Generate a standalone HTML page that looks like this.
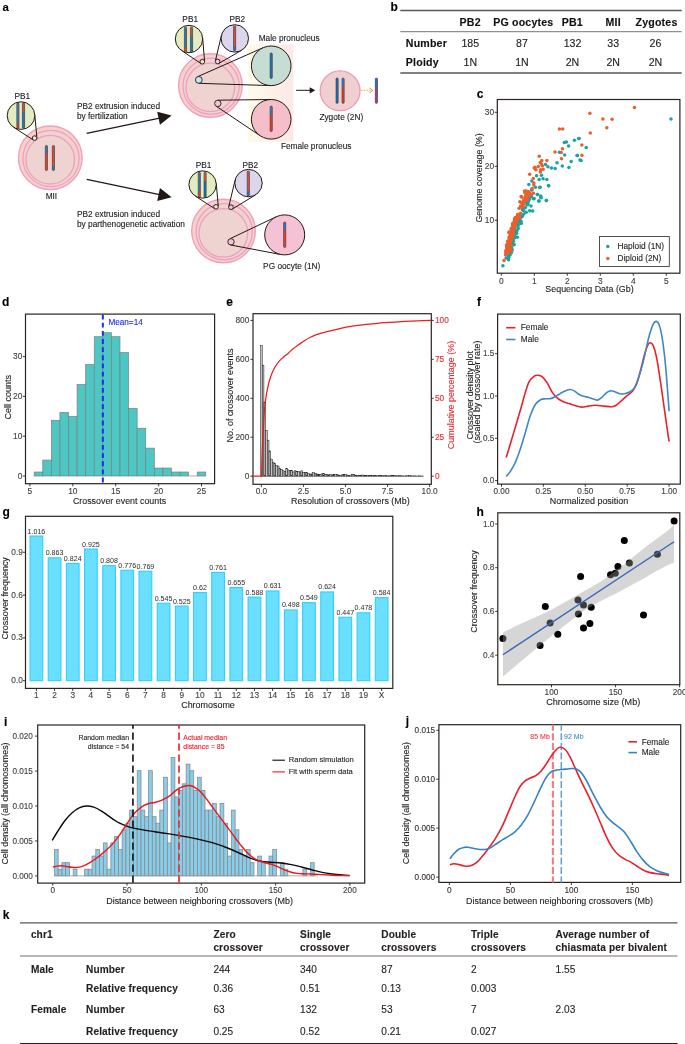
<!DOCTYPE html>
<html lang="en">
<head>
<meta charset="utf-8">
<title>Figure: crossover analysis</title>
<style>
html,body{margin:0;padding:0;background:#ffffff;}
body{width:685px;height:1044px;overflow:hidden;font-family:'Liberation Sans', sans-serif;}
svg{display:block;}
svg text{font-family:"Liberation Sans", sans-serif;}
</style>
</head>
<body>
<svg width="685" height="1044" viewBox="0 0 685 1044">
<defs>
<linearGradient id="pnbg" x1="0" y1="0" x2="1" y2="0">
<stop offset="0" stop-color="#fffbe8"/>
<stop offset="1" stop-color="#fce8e6"/>
</linearGradient>
</defs>
<rect x="0" y="0" width="685" height="1044" fill="#ffffff"/>
<text x="2.60" y="10.60" font-size="11.4" fill="#000" text-anchor="start" font-weight="bold" stroke="#000" stroke-width="0.12">a</text>
<circle cx="50.30" cy="157.80" r="31.80" fill="#f9d0cc" stroke="#efa0bc" stroke-width="1.4"/>
<circle cx="51.00" cy="158.50" r="28.10" fill="#eed3d1" stroke="#efa0bc" stroke-width="1.3"/>
<circle cx="50.20" cy="159.70" r="24.30" fill="#eed3d1" stroke="#efa0bc" stroke-width="1.3"/>
<line x1="36.89" y1="137.89" x2="34.74" y2="114.35" stroke="#231815" stroke-width="1.0"/>
<line x1="33.35" y1="140.03" x2="13.50" y2="127.19" stroke="#231815" stroke-width="1.0"/>
<circle cx="34.60" cy="138.10" r="2.30" fill="#e3ecc0" stroke="#231815" stroke-width="0.9"/>
<circle cx="21.00" cy="115.60" r="13.80" fill="#e3ecc0" stroke="#231815" stroke-width="1.0"/>
<g>
<rect x="16.80" y="102.90" width="2.20" height="25.40" fill="#e0492b" stroke="#231815" stroke-width="0.5" rx="1.1" ry="1.1"/>
<path d="M17.05,123.22 L17.05,103.90 Q17.05,103.15 17.90,103.15 Q18.75,103.15 18.75,103.90 L18.75,123.22 Z" fill="#2478b9"/>
</g>
<g>
<rect x="22.40" y="102.90" width="2.20" height="25.40" fill="#2478b9" stroke="#231815" stroke-width="0.5" rx="1.1" ry="1.1"/>
<path d="M22.65,111.54 L22.65,103.90 Q22.65,103.15 23.50,103.15 Q24.35,103.15 24.35,103.90 L24.35,111.54 Z" fill="#e0492b"/>
</g>
<g>
<rect x="45.30" y="145.40" width="2.20" height="25.20" fill="#e0492b" stroke="#231815" stroke-width="0.5" rx="1.1" ry="1.1"/>
<path d="M45.55,153.97 L45.55,146.40 Q45.55,145.65 46.40,145.65 Q47.25,145.65 47.25,146.40 L47.25,153.97 Z" fill="#2478b9"/>
</g>
<g>
<rect x="52.30" y="145.40" width="2.20" height="25.20" fill="#2478b9" stroke="#231815" stroke-width="0.5" rx="1.1" ry="1.1"/>
<path d="M52.55,166.06 L52.55,146.40 Q52.55,145.65 53.40,145.65 Q54.25,145.65 54.25,146.40 L54.25,166.06 Z" fill="#e0492b"/>
</g>
<text x="22.30" y="98.50" font-size="8.3" fill="#1c1c1c" text-anchor="middle" stroke="#1c1c1c" stroke-width="0.12">PB1</text>
<text x="51.40" y="198.60" font-size="8.3" fill="#1c1c1c" text-anchor="middle" stroke="#1c1c1c" stroke-width="0.12">MII</text>
<line x1="86.70" y1="133.40" x2="159.56" y2="118.12" stroke="#231815" stroke-width="1.3"/>
<polygon points="171.60,115.60 159.95,124.84 157.22,111.82" fill="#231815"/>
<line x1="86.70" y1="179.30" x2="159.56" y2="194.66" stroke="#231815" stroke-width="1.3"/>
<polygon points="171.60,197.20 157.21,200.96 159.96,187.95" fill="#231815"/>
<text x="77.00" y="108.80" font-size="8.3" fill="#1c1c1c" text-anchor="start" stroke="#1c1c1c" stroke-width="0.12">PB2 extrusion induced</text>
<text x="77.00" y="119.00" font-size="8.3" fill="#1c1c1c" text-anchor="start" stroke="#1c1c1c" stroke-width="0.12">by fertilization</text>
<text x="77.00" y="217.00" font-size="8.3" fill="#1c1c1c" text-anchor="start" stroke="#1c1c1c" stroke-width="0.12">PB2 extrusion induced</text>
<text x="77.00" y="227.30" font-size="8.3" fill="#1c1c1c" text-anchor="start" stroke="#1c1c1c" stroke-width="0.12">by parthenogenetic activation</text>
<rect x="248.30" y="44.30" width="45.00" height="97.50" fill="url(#pnbg)" stroke="none" stroke-width="1"/>
<circle cx="210.40" cy="85.50" r="31.80" fill="#f9d0cc" stroke="#efa0bc" stroke-width="1.4"/>
<circle cx="211.10" cy="86.20" r="28.10" fill="#eed3d1" stroke="#efa0bc" stroke-width="1.3"/>
<circle cx="210.30" cy="87.40" r="24.30" fill="#eed3d1" stroke="#efa0bc" stroke-width="1.3"/>
<line x1="204.59" y1="61.51" x2="202.65" y2="37.88" stroke="#231815" stroke-width="1.0"/>
<line x1="201.02" y1="63.61" x2="181.35" y2="50.36" stroke="#231815" stroke-width="1.0"/>
<circle cx="202.30" cy="61.70" r="2.30" fill="#e3ecc0" stroke="#231815" stroke-width="0.9"/>
<circle cx="189.00" cy="39.00" r="13.70" fill="#e3ecc0" stroke="#231815" stroke-width="1.0"/>
<line x1="218.75" y1="63.49" x2="241.65" y2="50.26" stroke="#231815" stroke-width="1.0"/>
<line x1="215.36" y1="60.97" x2="221.47" y2="35.24" stroke="#231815" stroke-width="1.0"/>
<circle cx="217.60" cy="61.50" r="2.30" fill="#dbd6ec" stroke="#231815" stroke-width="0.9"/>
<circle cx="234.80" cy="38.40" r="13.70" fill="#dbd6ec" stroke="#231815" stroke-width="1.0"/>
<g>
<rect x="184.40" y="27.00" width="2.20" height="25.50" fill="#e0492b" stroke="#231815" stroke-width="0.5" rx="1.1" ry="1.1"/>
<path d="M184.65,47.40 L184.65,28.00 Q184.65,27.25 185.50,27.25 Q186.35,27.25 186.35,28.00 L186.35,47.40 Z" fill="#2478b9"/>
</g>
<g>
<rect x="190.40" y="27.00" width="2.20" height="25.50" fill="#2478b9" stroke="#231815" stroke-width="0.5" rx="1.1" ry="1.1"/>
<path d="M190.65,35.67 L190.65,28.00 Q190.65,27.25 191.50,27.25 Q192.35,27.25 192.35,28.00 L192.35,35.67 Z" fill="#e0492b"/>
</g>
<g>
<rect x="233.50" y="26.00" width="2.20" height="24.90" fill="#2478b9" stroke="#231815" stroke-width="0.5" rx="1.1" ry="1.1"/>
<path d="M233.75,45.92 L233.75,27.00 Q233.75,26.25 234.60,26.25 Q235.45,26.25 235.45,27.00 L235.45,45.92 Z" fill="#e0492b"/>
</g>
<line x1="198.69" y1="83.30" x2="270.57" y2="85.59" stroke="#231815" stroke-width="1.0"/>
<line x1="197.42" y1="76.79" x2="263.19" y2="47.69" stroke="#231815" stroke-width="1.0"/>
<circle cx="198.80" cy="79.90" r="3.40" fill="#c9e6ee" stroke="#231815" stroke-width="0.9"/>
<circle cx="271.20" cy="65.80" r="19.80" fill="#c6ddd4" stroke="#231815" stroke-width="1.0"/>
<line x1="216.01" y1="106.06" x2="260.15" y2="135.73" stroke="#231815" stroke-width="1.0"/>
<line x1="217.76" y1="100.20" x2="270.94" y2="99.50" stroke="#231815" stroke-width="1.0"/>
<circle cx="217.80" cy="103.40" r="3.20" fill="#f6c3d6" stroke="#231815" stroke-width="0.9"/>
<circle cx="271.20" cy="119.30" r="19.80" fill="#f5bec8" stroke="#231815" stroke-width="1.0"/>
<g>
<rect x="270.10" y="52.90" width="2.20" height="25.60" fill="#2478b9" stroke="#231815" stroke-width="0.5" rx="1.1" ry="1.1"/>
</g>
<g>
<rect x="270.10" y="106.00" width="2.20" height="25.60" fill="#e0492b" stroke="#231815" stroke-width="0.5" rx="1.1" ry="1.1"/>
<path d="M270.35,114.70 L270.35,107.00 Q270.35,106.25 271.20,106.25 Q272.05,106.25 272.05,107.00 L272.05,114.70 Z" fill="#2478b9"/>
</g>
<text x="190.20" y="22.30" font-size="8.3" fill="#1c1c1c" text-anchor="middle" stroke="#1c1c1c" stroke-width="0.12">PB1</text>
<text x="237.30" y="22.30" font-size="8.3" fill="#1c1c1c" text-anchor="middle" stroke="#1c1c1c" stroke-width="0.12">PB2</text>
<text x="258.70" y="41.00" font-size="8.3" fill="#1c1c1c" text-anchor="start" stroke="#1c1c1c" stroke-width="0.12">Male pronucleus</text>
<text x="280.90" y="149.00" font-size="8.3" fill="#1c1c1c" text-anchor="start" stroke="#1c1c1c" stroke-width="0.12">Female pronucleus</text>
<line x1="296.10" y1="90.30" x2="310.70" y2="90.30" stroke="#231815" stroke-width="1.0"/>
<polygon points="315.20,90.30 309.70,93.40 309.70,87.20" fill="#231815"/>
<circle cx="340.10" cy="90.80" r="19.90" fill="#efcfcf" stroke="#ef9ab5" stroke-width="1.3"/>
<g>
<rect x="336.00" y="78.00" width="2.20" height="25.40" fill="#2478b9" stroke="#231815" stroke-width="0.5" rx="1.1" ry="1.1"/>
</g>
<g>
<rect x="342.00" y="78.00" width="2.20" height="25.40" fill="#e0492b" stroke="#231815" stroke-width="0.5" rx="1.1" ry="1.1"/>
<path d="M342.25,86.89 L342.25,79.00 Q342.25,78.25 343.10,78.25 Q343.95,78.25 343.95,79.00 L343.95,86.89 Z" fill="#2478b9"/>
</g>
<text x="341.30" y="120.10" font-size="8.3" fill="#1c1c1c" text-anchor="middle" stroke="#1c1c1c" stroke-width="0.12">Zygote (2N)</text>
<line x1="361.00" y1="90.30" x2="370.50" y2="90.30" stroke="#f7b23a" stroke-width="1.0" stroke-dasharray="1.7 1.0"/>
<path d="M369.3,87.8 L372.9,90.3 L369.3,92.8" fill="none" stroke="#f08a4b" stroke-width="1.0"/>
<g>
<rect x="375.30" y="78.00" width="2.20" height="25.40" fill="#9a3f98" stroke="#231815" stroke-width="0.5" rx="1.1" ry="1.1"/>
<path d="M375.55,86.89 L375.55,79.00 Q375.55,78.25 376.40,78.25 Q377.25,78.25 377.25,79.00 L377.25,86.89 Z" fill="#2478b9"/>
</g>
<circle cx="223.50" cy="231.00" r="31.80" fill="#f9d0cc" stroke="#efa0bc" stroke-width="1.4"/>
<circle cx="224.20" cy="231.70" r="28.10" fill="#eed3d1" stroke="#efa0bc" stroke-width="1.3"/>
<circle cx="223.40" cy="232.90" r="24.30" fill="#eed3d1" stroke="#efa0bc" stroke-width="1.3"/>
<line x1="218.29" y1="206.60" x2="216.25" y2="183.30" stroke="#231815" stroke-width="1.0"/>
<line x1="214.75" y1="208.73" x2="195.14" y2="195.99" stroke="#231815" stroke-width="1.0"/>
<circle cx="216.00" cy="206.80" r="2.30" fill="#e3ecc0" stroke="#231815" stroke-width="0.9"/>
<circle cx="202.60" cy="184.50" r="13.70" fill="#e3ecc0" stroke="#231815" stroke-width="1.0"/>
<line x1="232.20" y1="209.16" x2="255.66" y2="194.78" stroke="#231815" stroke-width="1.0"/>
<line x1="228.76" y1="206.66" x2="235.18" y2="179.91" stroke="#231815" stroke-width="1.0"/>
<circle cx="231.00" cy="207.20" r="2.30" fill="#dbd6ec" stroke="#231815" stroke-width="0.9"/>
<circle cx="248.50" cy="183.10" r="13.70" fill="#dbd6ec" stroke="#231815" stroke-width="1.0"/>
<g>
<rect x="198.20" y="172.20" width="2.20" height="25.30" fill="#e0492b" stroke="#231815" stroke-width="0.5" rx="1.1" ry="1.1"/>
<path d="M198.45,192.44 L198.45,173.20 Q198.45,172.45 199.30,172.45 Q200.15,172.45 200.15,173.20 L200.15,192.44 Z" fill="#2478b9"/>
</g>
<g>
<rect x="204.00" y="172.20" width="2.20" height="25.30" fill="#2478b9" stroke="#231815" stroke-width="0.5" rx="1.1" ry="1.1"/>
<path d="M204.25,180.80 L204.25,173.20 Q204.25,172.45 205.10,172.45 Q205.95,172.45 205.95,173.20 L205.95,180.80 Z" fill="#e0492b"/>
</g>
<g>
<rect x="247.20" y="171.00" width="2.20" height="25.00" fill="#2478b9" stroke="#231815" stroke-width="0.5" rx="1.1" ry="1.1"/>
<path d="M247.45,191.00 L247.45,172.00 Q247.45,171.25 248.30,171.25 Q249.15,171.25 249.15,172.00 L249.15,191.00 Z" fill="#e0492b"/>
</g>
<line x1="230.40" y1="244.94" x2="280.97" y2="254.55" stroke="#231815" stroke-width="1.0"/>
<line x1="229.63" y1="238.91" x2="276.12" y2="216.83" stroke="#231815" stroke-width="1.0"/>
<circle cx="231.00" cy="241.80" r="3.20" fill="#f6c3d6" stroke="#231815" stroke-width="0.9"/>
<circle cx="284.70" cy="234.90" r="20.00" fill="#f5c1d4" stroke="#231815" stroke-width="1.0"/>
<g>
<rect x="283.60" y="222.00" width="2.20" height="25.50" fill="#e0492b" stroke="#231815" stroke-width="0.5" rx="1.1" ry="1.1"/>
<path d="M283.85,230.67 L283.85,223.00 Q283.85,222.25 284.70,222.25 Q285.55,222.25 285.55,223.00 L285.55,230.67 Z" fill="#2478b9"/>
</g>
<text x="203.60" y="168.20" font-size="8.3" fill="#1c1c1c" text-anchor="middle" stroke="#1c1c1c" stroke-width="0.12">PB1</text>
<text x="250.40" y="168.20" font-size="8.3" fill="#1c1c1c" text-anchor="middle" stroke="#1c1c1c" stroke-width="0.12">PB2</text>
<text x="263.10" y="269.00" font-size="8.3" fill="#1c1c1c" text-anchor="start" stroke="#1c1c1c" stroke-width="0.12">PG oocyte (1N)</text>
<text x="390.50" y="10.80" font-size="12" fill="#000" text-anchor="start" font-weight="bold" stroke="#000" stroke-width="0.12">b</text>
<line x1="400.30" y1="10.60" x2="681.70" y2="10.60" stroke="#5d5552" stroke-width="1.5"/>
<line x1="400.30" y1="31.70" x2="681.70" y2="31.70" stroke="#6d6663" stroke-width="0.9"/>
<line x1="400.30" y1="73.00" x2="681.70" y2="73.00" stroke="#5d5552" stroke-width="1.5"/>
<text x="470.20" y="26.20" font-size="10.6" fill="#111" text-anchor="middle" font-weight="bold" letter-spacing="0.2" stroke="#111" stroke-width="0.12">PB2</text>
<text x="470.30" y="46.80" font-size="10.6" fill="#222" text-anchor="middle" stroke="#222" stroke-width="0.12">185</text>
<text x="470.30" y="65.80" font-size="10.6" fill="#222" text-anchor="middle" stroke="#222" stroke-width="0.12">1N</text>
<text x="523.30" y="26.20" font-size="10.6" fill="#111" text-anchor="middle" font-weight="bold" letter-spacing="0.2" stroke="#111" stroke-width="0.12">PG oocytes</text>
<text x="521.90" y="46.80" font-size="10.6" fill="#222" text-anchor="middle" stroke="#222" stroke-width="0.12">87</text>
<text x="521.90" y="65.80" font-size="10.6" fill="#222" text-anchor="middle" stroke="#222" stroke-width="0.12">1N</text>
<text x="572.30" y="26.20" font-size="10.6" fill="#111" text-anchor="middle" font-weight="bold" letter-spacing="0.2" stroke="#111" stroke-width="0.12">PB1</text>
<text x="572.50" y="46.80" font-size="10.6" fill="#222" text-anchor="middle" stroke="#222" stroke-width="0.12">132</text>
<text x="572.50" y="65.80" font-size="10.6" fill="#222" text-anchor="middle" stroke="#222" stroke-width="0.12">2N</text>
<text x="613.20" y="26.20" font-size="10.6" fill="#111" text-anchor="middle" font-weight="bold" letter-spacing="0.2" stroke="#111" stroke-width="0.12">MII</text>
<text x="613.20" y="46.80" font-size="10.6" fill="#222" text-anchor="middle" stroke="#222" stroke-width="0.12">33</text>
<text x="613.20" y="65.80" font-size="10.6" fill="#222" text-anchor="middle" stroke="#222" stroke-width="0.12">2N</text>
<text x="656.50" y="26.20" font-size="10.6" fill="#111" text-anchor="middle" font-weight="bold" letter-spacing="0.2" stroke="#111" stroke-width="0.12">Zygotes</text>
<text x="655.40" y="46.80" font-size="10.6" fill="#222" text-anchor="middle" stroke="#222" stroke-width="0.12">26</text>
<text x="655.40" y="65.80" font-size="10.6" fill="#222" text-anchor="middle" stroke="#222" stroke-width="0.12">2N</text>
<text x="405.80" y="46.80" font-size="10.6" fill="#111" text-anchor="start" font-weight="bold" letter-spacing="0.2" stroke="#111" stroke-width="0.12">Number</text>
<text x="405.80" y="65.80" font-size="10.6" fill="#111" text-anchor="start" font-weight="bold" letter-spacing="0.2" stroke="#111" stroke-width="0.12">Ploidy</text>
<text x="476.70" y="98.00" font-size="12" fill="#000" text-anchor="start" font-weight="bold" stroke="#000" stroke-width="0.12">c</text>
<rect x="497.30" y="99.50" width="182.60" height="173.70" fill="#ffffff" stroke="#2b2320" stroke-width="1.2"/>
<line x1="494.70" y1="220.30" x2="497.30" y2="220.30" stroke="#2b2320" stroke-width="0.9"/>
<text x="494.10" y="222.80" font-size="8.4" fill="#3f3f3f" text-anchor="end" stroke="#3f3f3f" stroke-width="0.12">10</text>
<line x1="494.70" y1="166.30" x2="497.30" y2="166.30" stroke="#2b2320" stroke-width="0.9"/>
<text x="494.10" y="168.80" font-size="8.4" fill="#3f3f3f" text-anchor="end" stroke="#3f3f3f" stroke-width="0.12">20</text>
<line x1="494.70" y1="112.30" x2="497.30" y2="112.30" stroke="#2b2320" stroke-width="0.9"/>
<text x="494.10" y="114.80" font-size="8.4" fill="#3f3f3f" text-anchor="end" stroke="#3f3f3f" stroke-width="0.12">30</text>
<line x1="501.30" y1="273.20" x2="501.30" y2="275.80" stroke="#2b2320" stroke-width="0.9"/>
<text x="501.30" y="283.80" font-size="8.4" fill="#3f3f3f" text-anchor="middle" stroke="#3f3f3f" stroke-width="0.12">0</text>
<line x1="534.30" y1="273.20" x2="534.30" y2="275.80" stroke="#2b2320" stroke-width="0.9"/>
<text x="534.30" y="283.80" font-size="8.4" fill="#3f3f3f" text-anchor="middle" stroke="#3f3f3f" stroke-width="0.12">1</text>
<line x1="567.30" y1="273.20" x2="567.30" y2="275.80" stroke="#2b2320" stroke-width="0.9"/>
<text x="567.30" y="283.80" font-size="8.4" fill="#3f3f3f" text-anchor="middle" stroke="#3f3f3f" stroke-width="0.12">2</text>
<line x1="600.30" y1="273.20" x2="600.30" y2="275.80" stroke="#2b2320" stroke-width="0.9"/>
<text x="600.30" y="283.80" font-size="8.4" fill="#3f3f3f" text-anchor="middle" stroke="#3f3f3f" stroke-width="0.12">3</text>
<line x1="633.30" y1="273.20" x2="633.30" y2="275.80" stroke="#2b2320" stroke-width="0.9"/>
<text x="633.30" y="283.80" font-size="8.4" fill="#3f3f3f" text-anchor="middle" stroke="#3f3f3f" stroke-width="0.12">4</text>
<line x1="666.30" y1="273.20" x2="666.30" y2="275.80" stroke="#2b2320" stroke-width="0.9"/>
<text x="666.30" y="283.80" font-size="8.4" fill="#3f3f3f" text-anchor="middle" stroke="#3f3f3f" stroke-width="0.12">5</text>
<text x="589.50" y="291.80" font-size="8.9" fill="#231f20" text-anchor="middle" stroke="#231f20" stroke-width="0.12">Sequencing Data (Gb)</text>
<text x="481.60" y="177.90" font-size="8.9" fill="#231f20" text-anchor="middle" transform="rotate(-90 481.60 177.90)" stroke="#231f20" stroke-width="0.12">Genome coverage (%)</text>
<g fill="#18a3a3">
<circle cx="578.9" cy="138.4" r="1.75"/>
<circle cx="574.4" cy="140.3" r="1.75"/>
<circle cx="566.4" cy="142.1" r="1.75"/>
<circle cx="564.3" cy="142.5" r="1.75"/>
<circle cx="568.6" cy="146.1" r="1.75"/>
<circle cx="559.4" cy="152.3" r="1.75"/>
<circle cx="564.7" cy="154.9" r="1.75"/>
<circle cx="577.3" cy="155.5" r="1.75"/>
<circle cx="580.0" cy="160.0" r="1.75"/>
<circle cx="571.2" cy="161.6" r="1.75"/>
<circle cx="557.0" cy="162.8" r="1.75"/>
<circle cx="545.5" cy="164.4" r="1.75"/>
<circle cx="547.9" cy="166.8" r="1.75"/>
<circle cx="551.4" cy="168.1" r="1.75"/>
<circle cx="555.1" cy="168.4" r="1.75"/>
<circle cx="562.3" cy="166.1" r="1.75"/>
<circle cx="568.9" cy="167.6" r="1.75"/>
<circle cx="541.5" cy="175.3" r="1.75"/>
<circle cx="536.6" cy="175.8" r="1.75"/>
<circle cx="539.1" cy="179.6" r="1.75"/>
<circle cx="543.1" cy="178.8" r="1.75"/>
<circle cx="546.8" cy="179.6" r="1.75"/>
<circle cx="531.8" cy="180.9" r="1.75"/>
<circle cx="528.8" cy="184.4" r="1.75"/>
<circle cx="535.5" cy="187.3" r="1.75"/>
<circle cx="539.9" cy="187.3" r="1.75"/>
<circle cx="548.5" cy="185.7" r="1.75"/>
<circle cx="531.8" cy="189.7" r="1.75"/>
<circle cx="537.4" cy="194.6" r="1.75"/>
<circle cx="540.7" cy="195.9" r="1.75"/>
<circle cx="534.2" cy="198.6" r="1.75"/>
<circle cx="541.1" cy="197.8" r="1.75"/>
<circle cx="538.7" cy="201.0" r="1.75"/>
<circle cx="546.4" cy="200.5" r="1.75"/>
<circle cx="529.4" cy="197.8" r="1.75"/>
<circle cx="527.0" cy="201.0" r="1.75"/>
<circle cx="671.0" cy="119.1" r="1.75"/>
<circle cx="579.0" cy="138.4" r="1.75"/>
<circle cx="586.2" cy="147.5" r="1.75"/>
<circle cx="577.1" cy="155.5" r="1.75"/>
<circle cx="581.1" cy="160.4" r="1.75"/>
<circle cx="502.9" cy="265.8" r="1.75"/>
<circle cx="508.5" cy="259.7" r="1.75"/>
<circle cx="506.1" cy="258.1" r="1.75"/>
<circle cx="510.1" cy="254.9" r="1.75"/>
<circle cx="512.1" cy="250.0" r="1.75"/>
<circle cx="517.4" cy="237.2" r="1.75"/>
<circle cx="518.2" cy="228.4" r="1.75"/>
<circle cx="521.1" cy="222.7" r="1.75"/>
<circle cx="518.2" cy="225.1" r="1.75"/>
<circle cx="515.8" cy="233.2" r="1.75"/>
<circle cx="522.2" cy="216.3" r="1.75"/>
<circle cx="523.8" cy="213.9" r="1.75"/>
<circle cx="526.2" cy="212.3" r="1.75"/>
<circle cx="529.7" cy="210.7" r="1.75"/>
<circle cx="532.6" cy="211.0" r="1.75"/>
<circle cx="531.0" cy="205.9" r="1.75"/>
<circle cx="527.8" cy="204.3" r="1.75"/>
<circle cx="525.4" cy="207.5" r="1.75"/>
<circle cx="533.4" cy="198.7" r="1.75"/>
<circle cx="539.1" cy="201.1" r="1.75"/>
<circle cx="546.3" cy="200.6" r="1.75"/>
<circle cx="540.7" cy="197.0" r="1.75"/>
<circle cx="537.4" cy="194.6" r="1.75"/>
<circle cx="539.9" cy="187.4" r="1.75"/>
<circle cx="548.7" cy="185.8" r="1.75"/>
<circle cx="529.4" cy="199.5" r="1.75"/>
<circle cx="527.0" cy="201.9" r="1.75"/>
<circle cx="523.0" cy="209.1" r="1.75"/>
<circle cx="513.5" cy="241.2" r="1.75"/>
<circle cx="512.5" cy="243.7" r="1.75"/>
<circle cx="522.3" cy="215.7" r="1.75"/>
<circle cx="509.7" cy="250.3" r="1.75"/>
<circle cx="517.5" cy="219.7" r="1.75"/>
<circle cx="517.5" cy="222.4" r="1.75"/>
<circle cx="516.8" cy="230.7" r="1.75"/>
<circle cx="507.9" cy="251.5" r="1.75"/>
<circle cx="510.2" cy="245.5" r="1.75"/>
<circle cx="519.6" cy="220.5" r="1.75"/>
<circle cx="515.2" cy="230.4" r="1.75"/>
<circle cx="528.2" cy="201.9" r="1.75"/>
<circle cx="521.4" cy="217.0" r="1.75"/>
<circle cx="527.8" cy="204.8" r="1.75"/>
<circle cx="511.7" cy="243.4" r="1.75"/>
<circle cx="516.6" cy="233.3" r="1.75"/>
<circle cx="515.6" cy="230.8" r="1.75"/>
<circle cx="528.5" cy="195.1" r="1.75"/>
<circle cx="511.8" cy="248.8" r="1.75"/>
<circle cx="513.7" cy="237.5" r="1.75"/>
<circle cx="519.8" cy="217.5" r="1.75"/>
<circle cx="514.9" cy="234.8" r="1.75"/>
<circle cx="508.4" cy="257.6" r="1.75"/>
<circle cx="528.0" cy="200.7" r="1.75"/>
<circle cx="512.0" cy="243.8" r="1.75"/>
<circle cx="514.6" cy="237.7" r="1.75"/>
<circle cx="509.7" cy="253.1" r="1.75"/>
<circle cx="520.7" cy="216.7" r="1.75"/>
<circle cx="520.3" cy="222.2" r="1.75"/>
<circle cx="523.3" cy="209.4" r="1.75"/>
<circle cx="508.7" cy="257.4" r="1.75"/>
<circle cx="508.9" cy="250.6" r="1.75"/>
<circle cx="511.5" cy="247.7" r="1.75"/>
<circle cx="508.8" cy="251.5" r="1.75"/>
<circle cx="531.5" cy="196.4" r="1.75"/>
<circle cx="518.0" cy="224.9" r="1.75"/>
<circle cx="514.4" cy="228.1" r="1.75"/>
<circle cx="522.4" cy="209.7" r="1.75"/>
<circle cx="521.1" cy="223.4" r="1.75"/>
<circle cx="521.0" cy="220.9" r="1.75"/>
<circle cx="508.5" cy="251.1" r="1.75"/>
<circle cx="512.0" cy="239.2" r="1.75"/>
<circle cx="523.5" cy="210.4" r="1.75"/>
<circle cx="513.1" cy="245.0" r="1.75"/>
<circle cx="511.1" cy="248.9" r="1.75"/>
<circle cx="525.3" cy="201.4" r="1.75"/>
<circle cx="514.1" cy="244.4" r="1.75"/>
<circle cx="527.1" cy="201.0" r="1.75"/>
<circle cx="511.4" cy="252.4" r="1.75"/>
<circle cx="510.8" cy="243.3" r="1.75"/>
<circle cx="522.7" cy="204.4" r="1.75"/>
<circle cx="517.3" cy="223.7" r="1.75"/>
<circle cx="517.8" cy="227.1" r="1.75"/>
<circle cx="508.3" cy="254.7" r="1.75"/>
<circle cx="514.4" cy="235.2" r="1.75"/>
<circle cx="526.0" cy="201.7" r="1.75"/>
<circle cx="514.1" cy="237.9" r="1.75"/>
<circle cx="518.7" cy="220.9" r="1.75"/>
<circle cx="515.2" cy="232.6" r="1.75"/>
<circle cx="524.4" cy="207.4" r="1.75"/>
<circle cx="526.8" cy="204.5" r="1.75"/>
<circle cx="531.7" cy="189.9" r="1.75"/>
</g>
<g fill="#e8602c">
<circle cx="559.4" cy="129.0" r="1.75"/>
<circle cx="562.7" cy="128.9" r="1.75"/>
<circle cx="539.2" cy="156.3" r="1.75"/>
<circle cx="562.5" cy="148.8" r="1.75"/>
<circle cx="555.0" cy="152.0" r="1.75"/>
<circle cx="561.2" cy="152.5" r="1.75"/>
<circle cx="561.5" cy="158.8" r="1.75"/>
<circle cx="546.9" cy="160.5" r="1.75"/>
<circle cx="541.8" cy="160.5" r="1.75"/>
<circle cx="540.2" cy="162.4" r="1.75"/>
<circle cx="534.2" cy="168.1" r="1.75"/>
<circle cx="535.8" cy="169.7" r="1.75"/>
<circle cx="540.7" cy="169.7" r="1.75"/>
<circle cx="543.1" cy="169.2" r="1.75"/>
<circle cx="540.3" cy="172.1" r="1.75"/>
<circle cx="542.3" cy="165.7" r="1.75"/>
<circle cx="529.7" cy="174.3" r="1.75"/>
<circle cx="533.3" cy="178.5" r="1.75"/>
<circle cx="533.9" cy="183.0" r="1.75"/>
<circle cx="533.8" cy="184.9" r="1.75"/>
<circle cx="532.1" cy="188.5" r="1.75"/>
<circle cx="524.6" cy="190.9" r="1.75"/>
<circle cx="528.3" cy="191.4" r="1.75"/>
<circle cx="533.4" cy="193.3" r="1.75"/>
<circle cx="521.1" cy="196.5" r="1.75"/>
<circle cx="526.2" cy="195.4" r="1.75"/>
<circle cx="529.4" cy="195.4" r="1.75"/>
<circle cx="525.4" cy="197.8" r="1.75"/>
<circle cx="523.8" cy="200.2" r="1.75"/>
<circle cx="519.8" cy="201.8" r="1.75"/>
<circle cx="521.4" cy="202.6" r="1.75"/>
<circle cx="535.0" cy="167.3" r="1.75"/>
<circle cx="538.3" cy="166.5" r="1.75"/>
<circle cx="541.5" cy="164.1" r="1.75"/>
<circle cx="589.9" cy="113.3" r="1.75"/>
<circle cx="634.4" cy="107.4" r="1.75"/>
<circle cx="602.9" cy="118.9" r="1.75"/>
<circle cx="612.1" cy="119.2" r="1.75"/>
<circle cx="606.8" cy="127.8" r="1.75"/>
<circle cx="590.3" cy="133.1" r="1.75"/>
<circle cx="581.9" cy="145.1" r="1.75"/>
<circle cx="581.9" cy="155.2" r="1.75"/>
<circle cx="504.0" cy="260.5" r="1.75"/>
<circle cx="505.7" cy="254.9" r="1.75"/>
<circle cx="511.8" cy="250.8" r="1.75"/>
<circle cx="508.8" cy="246.0" r="1.75"/>
<circle cx="517.4" cy="216.7" r="1.75"/>
<circle cx="515.4" cy="217.4" r="1.75"/>
<circle cx="510.5" cy="238.9" r="1.75"/>
<circle cx="513.4" cy="223.9" r="1.75"/>
<circle cx="510.9" cy="233.5" r="1.75"/>
<circle cx="511.9" cy="228.3" r="1.75"/>
<circle cx="506.9" cy="245.5" r="1.75"/>
<circle cx="529.9" cy="193.1" r="1.75"/>
<circle cx="509.2" cy="232.0" r="1.75"/>
<circle cx="511.8" cy="236.6" r="1.75"/>
<circle cx="522.8" cy="202.5" r="1.75"/>
<circle cx="506.8" cy="245.9" r="1.75"/>
<circle cx="510.4" cy="249.7" r="1.75"/>
<circle cx="507.1" cy="247.5" r="1.75"/>
<circle cx="526.2" cy="200.5" r="1.75"/>
<circle cx="508.1" cy="245.1" r="1.75"/>
<circle cx="528.0" cy="192.5" r="1.75"/>
<circle cx="508.7" cy="246.1" r="1.75"/>
<circle cx="509.8" cy="242.4" r="1.75"/>
<circle cx="523.7" cy="203.6" r="1.75"/>
<circle cx="510.1" cy="237.3" r="1.75"/>
<circle cx="511.5" cy="235.0" r="1.75"/>
<circle cx="513.6" cy="229.2" r="1.75"/>
<circle cx="509.1" cy="248.0" r="1.75"/>
<circle cx="512.6" cy="223.6" r="1.75"/>
<circle cx="518.5" cy="217.2" r="1.75"/>
<circle cx="506.9" cy="245.9" r="1.75"/>
<circle cx="514.8" cy="218.6" r="1.75"/>
<circle cx="517.9" cy="215.3" r="1.75"/>
<circle cx="512.6" cy="231.0" r="1.75"/>
<circle cx="513.4" cy="229.2" r="1.75"/>
<circle cx="527.1" cy="194.5" r="1.75"/>
<circle cx="513.3" cy="224.2" r="1.75"/>
<circle cx="511.3" cy="240.3" r="1.75"/>
<circle cx="510.7" cy="235.9" r="1.75"/>
<circle cx="510.5" cy="233.2" r="1.75"/>
<circle cx="515.4" cy="223.4" r="1.75"/>
<circle cx="511.6" cy="235.2" r="1.75"/>
<circle cx="525.7" cy="195.8" r="1.75"/>
<circle cx="523.6" cy="201.0" r="1.75"/>
<circle cx="506.9" cy="253.4" r="1.75"/>
<circle cx="508.8" cy="243.9" r="1.75"/>
<circle cx="524.1" cy="201.5" r="1.75"/>
<circle cx="510.0" cy="242.0" r="1.75"/>
<circle cx="507.7" cy="250.3" r="1.75"/>
<circle cx="506.7" cy="244.7" r="1.75"/>
<circle cx="516.5" cy="219.1" r="1.75"/>
<circle cx="510.0" cy="235.4" r="1.75"/>
<circle cx="516.4" cy="221.9" r="1.75"/>
<circle cx="531.1" cy="194.5" r="1.75"/>
<circle cx="507.8" cy="245.7" r="1.75"/>
<circle cx="511.3" cy="232.3" r="1.75"/>
<circle cx="508.3" cy="248.7" r="1.75"/>
<circle cx="512.0" cy="231.9" r="1.75"/>
<circle cx="519.0" cy="216.0" r="1.75"/>
<circle cx="506.8" cy="247.9" r="1.75"/>
<circle cx="513.1" cy="235.0" r="1.75"/>
<circle cx="507.1" cy="249.0" r="1.75"/>
<circle cx="526.7" cy="200.5" r="1.75"/>
<circle cx="508.5" cy="244.2" r="1.75"/>
<circle cx="515.3" cy="219.7" r="1.75"/>
<circle cx="511.1" cy="228.8" r="1.75"/>
<circle cx="506.4" cy="251.0" r="1.75"/>
<circle cx="509.0" cy="237.5" r="1.75"/>
<circle cx="520.6" cy="206.1" r="1.75"/>
<circle cx="526.1" cy="191.1" r="1.75"/>
<circle cx="512.6" cy="231.5" r="1.75"/>
<circle cx="515.7" cy="221.7" r="1.75"/>
<circle cx="512.4" cy="235.1" r="1.75"/>
<circle cx="521.6" cy="207.0" r="1.75"/>
<circle cx="511.1" cy="245.2" r="1.75"/>
<circle cx="511.8" cy="234.8" r="1.75"/>
<circle cx="517.7" cy="218.2" r="1.75"/>
<circle cx="509.3" cy="239.2" r="1.75"/>
<circle cx="509.9" cy="238.5" r="1.75"/>
<circle cx="517.0" cy="217.1" r="1.75"/>
<circle cx="506.6" cy="245.6" r="1.75"/>
<circle cx="519.9" cy="218.1" r="1.75"/>
<circle cx="506.0" cy="250.6" r="1.75"/>
<circle cx="522.0" cy="197.2" r="1.75"/>
<circle cx="513.5" cy="233.6" r="1.75"/>
<circle cx="514.4" cy="220.0" r="1.75"/>
<circle cx="515.7" cy="218.2" r="1.75"/>
<circle cx="508.4" cy="241.5" r="1.75"/>
<circle cx="511.9" cy="231.0" r="1.75"/>
<circle cx="517.7" cy="214.5" r="1.75"/>
<circle cx="507.7" cy="248.6" r="1.75"/>
<circle cx="512.6" cy="225.5" r="1.75"/>
<circle cx="509.7" cy="239.5" r="1.75"/>
<circle cx="508.5" cy="252.1" r="1.75"/>
<circle cx="516.1" cy="219.4" r="1.75"/>
<circle cx="515.2" cy="220.1" r="1.75"/>
<circle cx="507.6" cy="241.3" r="1.75"/>
<circle cx="511.3" cy="234.9" r="1.75"/>
<circle cx="508.3" cy="247.9" r="1.75"/>
<circle cx="521.7" cy="206.4" r="1.75"/>
<circle cx="513.9" cy="225.3" r="1.75"/>
<circle cx="505.9" cy="254.2" r="1.75"/>
<circle cx="506.1" cy="251.1" r="1.75"/>
<circle cx="507.9" cy="249.2" r="1.75"/>
<circle cx="510.5" cy="233.8" r="1.75"/>
<circle cx="516.6" cy="220.3" r="1.75"/>
<circle cx="512.6" cy="226.5" r="1.75"/>
<circle cx="513.7" cy="222.7" r="1.75"/>
<circle cx="515.0" cy="219.7" r="1.75"/>
<circle cx="519.3" cy="214.4" r="1.75"/>
<circle cx="524.5" cy="199.7" r="1.75"/>
<circle cx="518.5" cy="214.5" r="1.75"/>
<circle cx="511.2" cy="230.4" r="1.75"/>
<circle cx="510.7" cy="236.5" r="1.75"/>
<circle cx="523.4" cy="206.6" r="1.75"/>
<circle cx="527.3" cy="198.6" r="1.75"/>
<circle cx="512.0" cy="237.3" r="1.75"/>
<circle cx="524.9" cy="192.6" r="1.75"/>
<circle cx="515.7" cy="217.7" r="1.75"/>
<circle cx="510.9" cy="241.1" r="1.75"/>
<circle cx="514.0" cy="226.8" r="1.75"/>
<circle cx="507.6" cy="245.4" r="1.75"/>
<circle cx="519.1" cy="208.2" r="1.75"/>
<circle cx="510.0" cy="242.4" r="1.75"/>
<circle cx="522.7" cy="206.9" r="1.75"/>
<circle cx="520.6" cy="213.2" r="1.75"/>
<circle cx="509.3" cy="242.1" r="1.75"/>
<circle cx="514.8" cy="219.3" r="1.75"/>
<circle cx="515.1" cy="223.4" r="1.75"/>
<circle cx="507.6" cy="252.9" r="1.75"/>
<circle cx="509.6" cy="240.1" r="1.75"/>
<circle cx="508.8" cy="232.6" r="1.75"/>
<circle cx="516.0" cy="220.9" r="1.75"/>
<circle cx="508.2" cy="242.8" r="1.75"/>
<circle cx="514.2" cy="228.0" r="1.75"/>
<circle cx="511.0" cy="236.0" r="1.75"/>
<circle cx="508.3" cy="249.1" r="1.75"/>
<circle cx="506.0" cy="252.2" r="1.75"/>
<circle cx="507.2" cy="251.0" r="1.75"/>
<circle cx="510.1" cy="238.0" r="1.75"/>
<circle cx="515.2" cy="225.3" r="1.75"/>
<circle cx="507.8" cy="245.1" r="1.75"/>
<circle cx="514.4" cy="222.7" r="1.75"/>
</g>
<rect x="599.60" y="236.60" width="69.70" height="29.80" fill="#fff" stroke="#2b2320" stroke-width="0.8"/>
<circle cx="607.80" cy="246.40" r="1.75" fill="#18a3a3" stroke="none" stroke-width="1"/>
<circle cx="607.80" cy="258.60" r="1.75" fill="#e8602c" stroke="none" stroke-width="1"/>
<text x="617.50" y="248.90" font-size="8.3" fill="#231f20" text-anchor="start" stroke="#231f20" stroke-width="0.12">Haploid (1N)</text>
<text x="617.50" y="261.30" font-size="8.3" fill="#231f20" text-anchor="start" stroke="#231f20" stroke-width="0.12">Diploid (2N)</text>
<text x="2.00" y="305.80" font-size="12" fill="#000" text-anchor="start" font-weight="bold" stroke="#000" stroke-width="0.12">d</text>
<rect x="25.50" y="314.10" width="189.10" height="169.60" fill="#ffffff" stroke="#2b2320" stroke-width="1.2"/>
<rect x="34.19" y="472.02" width="8.58" height="3.98" fill="#4dc7c4" stroke="#7f7f7f" stroke-width="0.7"/>
<rect x="42.77" y="460.08" width="8.58" height="15.92" fill="#4dc7c4" stroke="#7f7f7f" stroke-width="0.7"/>
<rect x="51.35" y="420.28" width="8.58" height="55.72" fill="#4dc7c4" stroke="#7f7f7f" stroke-width="0.7"/>
<rect x="59.93" y="412.32" width="8.58" height="63.68" fill="#4dc7c4" stroke="#7f7f7f" stroke-width="0.7"/>
<rect x="68.51" y="416.30" width="8.58" height="59.70" fill="#4dc7c4" stroke="#7f7f7f" stroke-width="0.7"/>
<rect x="77.09" y="384.46" width="8.58" height="91.54" fill="#4dc7c4" stroke="#7f7f7f" stroke-width="0.7"/>
<rect x="85.67" y="364.56" width="8.58" height="111.44" fill="#4dc7c4" stroke="#7f7f7f" stroke-width="0.7"/>
<rect x="94.25" y="336.70" width="8.58" height="139.30" fill="#4dc7c4" stroke="#7f7f7f" stroke-width="0.7"/>
<rect x="102.83" y="332.72" width="8.58" height="143.28" fill="#4dc7c4" stroke="#7f7f7f" stroke-width="0.7"/>
<rect x="111.41" y="336.70" width="8.58" height="139.30" fill="#4dc7c4" stroke="#7f7f7f" stroke-width="0.7"/>
<rect x="119.99" y="352.62" width="8.58" height="123.38" fill="#4dc7c4" stroke="#7f7f7f" stroke-width="0.7"/>
<rect x="128.57" y="408.34" width="8.58" height="67.66" fill="#4dc7c4" stroke="#7f7f7f" stroke-width="0.7"/>
<rect x="137.15" y="428.24" width="8.58" height="47.76" fill="#4dc7c4" stroke="#7f7f7f" stroke-width="0.7"/>
<rect x="145.73" y="448.14" width="8.58" height="27.86" fill="#4dc7c4" stroke="#7f7f7f" stroke-width="0.7"/>
<rect x="154.31" y="468.04" width="8.58" height="7.96" fill="#4dc7c4" stroke="#7f7f7f" stroke-width="0.7"/>
<rect x="162.89" y="468.04" width="8.58" height="7.96" fill="#4dc7c4" stroke="#7f7f7f" stroke-width="0.7"/>
<rect x="171.47" y="472.02" width="8.58" height="3.98" fill="#4dc7c4" stroke="#7f7f7f" stroke-width="0.7"/>
<rect x="180.05" y="472.02" width="8.58" height="3.98" fill="#4dc7c4" stroke="#7f7f7f" stroke-width="0.7"/>
<line x1="188.63" y1="476.00" x2="197.21" y2="476.00" stroke="#8a8a8a" stroke-width="0.7"/>
<rect x="197.21" y="472.02" width="8.58" height="3.98" fill="#4dc7c4" stroke="#7f7f7f" stroke-width="0.7"/>
<line x1="102.83" y1="314.60" x2="102.83" y2="483.20" stroke="#1a2cf0" stroke-width="2.0" stroke-dasharray="4.85 3.3"/>
<text x="108.40" y="324.90" font-size="8.2" fill="#1a2cf0" text-anchor="start" stroke="#1a2cf0" stroke-width="0.12">Mean=14</text>
<line x1="22.90" y1="476.00" x2="25.50" y2="476.00" stroke="#2b2320" stroke-width="0.9"/>
<text x="22.30" y="478.50" font-size="8.4" fill="#3f3f3f" text-anchor="end" stroke="#3f3f3f" stroke-width="0.12">0</text>
<line x1="22.90" y1="436.20" x2="25.50" y2="436.20" stroke="#2b2320" stroke-width="0.9"/>
<text x="22.30" y="438.70" font-size="8.4" fill="#3f3f3f" text-anchor="end" stroke="#3f3f3f" stroke-width="0.12">10</text>
<line x1="22.90" y1="396.40" x2="25.50" y2="396.40" stroke="#2b2320" stroke-width="0.9"/>
<text x="22.30" y="398.90" font-size="8.4" fill="#3f3f3f" text-anchor="end" stroke="#3f3f3f" stroke-width="0.12">20</text>
<line x1="22.90" y1="356.60" x2="25.50" y2="356.60" stroke="#2b2320" stroke-width="0.9"/>
<text x="22.30" y="359.10" font-size="8.4" fill="#3f3f3f" text-anchor="end" stroke="#3f3f3f" stroke-width="0.12">30</text>
<line x1="29.90" y1="483.70" x2="29.90" y2="486.30" stroke="#2b2320" stroke-width="0.9"/>
<text x="29.90" y="493.60" font-size="8.4" fill="#3f3f3f" text-anchor="middle" stroke="#3f3f3f" stroke-width="0.12">5</text>
<line x1="72.80" y1="483.70" x2="72.80" y2="486.30" stroke="#2b2320" stroke-width="0.9"/>
<text x="72.80" y="493.60" font-size="8.4" fill="#3f3f3f" text-anchor="middle" stroke="#3f3f3f" stroke-width="0.12">10</text>
<line x1="115.70" y1="483.70" x2="115.70" y2="486.30" stroke="#2b2320" stroke-width="0.9"/>
<text x="115.70" y="493.60" font-size="8.4" fill="#3f3f3f" text-anchor="middle" stroke="#3f3f3f" stroke-width="0.12">15</text>
<line x1="158.60" y1="483.70" x2="158.60" y2="486.30" stroke="#2b2320" stroke-width="0.9"/>
<text x="158.60" y="493.60" font-size="8.4" fill="#3f3f3f" text-anchor="middle" stroke="#3f3f3f" stroke-width="0.12">20</text>
<line x1="201.50" y1="483.70" x2="201.50" y2="486.30" stroke="#2b2320" stroke-width="0.9"/>
<text x="201.50" y="493.60" font-size="8.4" fill="#3f3f3f" text-anchor="middle" stroke="#3f3f3f" stroke-width="0.12">25</text>
<text x="119.50" y="504.00" font-size="8.9" fill="#231f20" text-anchor="middle" stroke="#231f20" stroke-width="0.12">Crossover event counts</text>
<text x="10.90" y="397.30" font-size="9.0" fill="#231f20" text-anchor="middle" transform="rotate(-90 10.90 397.30)" stroke="#231f20" stroke-width="0.12">Cell counts</text>
<text x="226.20" y="305.80" font-size="12" fill="#000" text-anchor="start" font-weight="bold" stroke="#000" stroke-width="0.12">e</text>
<rect x="253.00" y="313.70" width="178.30" height="170.60" fill="#ffffff" stroke="#2b2320" stroke-width="1.2"/>
<g fill="#c4c4c4" stroke="#1a1a1a" stroke-width="0.5">
<rect x="260.56" y="345.72" width="1.68" height="130.48"/>
<rect x="262.24" y="365.19" width="1.68" height="111.01"/>
<rect x="263.92" y="402.19" width="1.68" height="74.00"/>
<rect x="265.60" y="430.43" width="1.68" height="45.77"/>
<rect x="267.29" y="440.17" width="1.68" height="36.03"/>
<rect x="268.97" y="450.88" width="1.68" height="25.32"/>
<rect x="270.65" y="459.06" width="1.68" height="17.14"/>
<rect x="272.33" y="462.18" width="1.68" height="14.02"/>
<rect x="274.01" y="463.54" width="1.68" height="12.66"/>
<rect x="275.70" y="465.49" width="1.68" height="10.71"/>
<rect x="277.38" y="466.07" width="1.68" height="10.13"/>
<rect x="279.06" y="468.41" width="1.68" height="7.79"/>
<rect x="280.74" y="469.38" width="1.68" height="6.82"/>
<rect x="282.42" y="470.75" width="1.68" height="5.45"/>
<rect x="284.11" y="471.33" width="1.68" height="4.87"/>
<rect x="285.79" y="468.41" width="1.68" height="7.79"/>
<rect x="287.47" y="469.97" width="1.68" height="6.23"/>
<rect x="289.15" y="470.36" width="1.68" height="5.84"/>
<rect x="290.83" y="470.36" width="1.68" height="5.84"/>
<rect x="292.52" y="471.92" width="1.68" height="4.28"/>
<rect x="294.20" y="470.75" width="1.68" height="5.45"/>
<rect x="295.88" y="471.33" width="1.68" height="4.87"/>
<rect x="297.56" y="471.33" width="1.68" height="4.87"/>
<rect x="299.25" y="471.92" width="1.68" height="4.28"/>
<rect x="300.93" y="470.75" width="1.68" height="5.45"/>
<rect x="302.61" y="472.31" width="1.68" height="3.89"/>
<rect x="304.29" y="472.69" width="1.68" height="3.51"/>
<rect x="305.97" y="472.69" width="1.68" height="3.51"/>
<rect x="307.65" y="473.28" width="1.68" height="2.92"/>
<rect x="309.34" y="474.25" width="1.68" height="1.95"/>
<rect x="311.02" y="473.86" width="1.68" height="2.34"/>
<rect x="312.70" y="472.69" width="1.68" height="3.51"/>
<rect x="314.38" y="473.47" width="1.68" height="2.73"/>
<rect x="316.06" y="473.86" width="1.68" height="2.34"/>
<rect x="317.75" y="474.25" width="1.68" height="1.95"/>
<rect x="319.43" y="474.64" width="1.68" height="1.56"/>
<rect x="321.11" y="473.86" width="1.68" height="2.34"/>
<rect x="322.79" y="473.47" width="1.68" height="2.73"/>
<rect x="324.47" y="474.25" width="1.68" height="1.95"/>
<rect x="326.16" y="474.45" width="1.68" height="1.75"/>
<rect x="327.84" y="474.84" width="1.68" height="1.36"/>
<rect x="329.52" y="474.64" width="1.68" height="1.56"/>
<rect x="331.20" y="475.03" width="1.68" height="1.17"/>
<rect x="332.88" y="474.45" width="1.68" height="1.75"/>
<rect x="334.57" y="474.25" width="1.68" height="1.95"/>
<rect x="336.25" y="474.64" width="1.68" height="1.56"/>
<rect x="337.93" y="475.03" width="1.68" height="1.17"/>
<rect x="339.61" y="475.23" width="1.68" height="0.97"/>
<rect x="341.29" y="474.84" width="1.68" height="1.36"/>
<rect x="342.98" y="474.64" width="1.68" height="1.56"/>
<rect x="344.66" y="474.45" width="1.68" height="1.75"/>
<rect x="346.34" y="475.03" width="1.68" height="1.17"/>
<rect x="348.02" y="475.42" width="1.68" height="0.78"/>
<rect x="349.70" y="475.23" width="1.68" height="0.97"/>
<rect x="351.39" y="474.64" width="1.68" height="1.56"/>
<rect x="353.07" y="474.45" width="1.68" height="1.75"/>
<rect x="354.75" y="475.23" width="1.68" height="0.97"/>
<rect x="356.43" y="475.42" width="1.68" height="0.78"/>
<rect x="358.12" y="475.62" width="1.68" height="0.58"/>
<rect x="359.80" y="475.42" width="1.68" height="0.78"/>
<rect x="361.48" y="475.03" width="1.68" height="1.17"/>
<rect x="363.16" y="475.23" width="1.68" height="0.97"/>
<rect x="364.84" y="475.42" width="1.68" height="0.78"/>
<rect x="366.52" y="475.62" width="1.68" height="0.58"/>
<rect x="368.21" y="475.42" width="1.68" height="0.78"/>
<rect x="369.89" y="475.62" width="1.68" height="0.58"/>
<rect x="371.57" y="475.23" width="1.68" height="0.97"/>
<rect x="373.25" y="475.42" width="1.68" height="0.78"/>
<rect x="374.94" y="475.62" width="1.68" height="0.58"/>
<rect x="376.62" y="475.81" width="1.68" height="0.39"/>
<rect x="378.30" y="475.62" width="1.68" height="0.58"/>
<rect x="379.98" y="475.42" width="1.68" height="0.78"/>
<rect x="381.66" y="475.62" width="1.68" height="0.58"/>
<rect x="383.35" y="475.81" width="1.68" height="0.39"/>
<rect x="385.03" y="475.62" width="1.68" height="0.58"/>
<rect x="386.71" y="475.81" width="1.68" height="0.39"/>
<rect x="388.39" y="475.81" width="1.68" height="0.39"/>
<rect x="390.07" y="475.62" width="1.68" height="0.58"/>
<rect x="391.75" y="475.42" width="1.68" height="0.78"/>
<rect x="393.44" y="475.62" width="1.68" height="0.58"/>
<rect x="395.12" y="475.81" width="1.68" height="0.39"/>
<rect x="396.80" y="475.81" width="1.68" height="0.39"/>
<rect x="398.48" y="475.62" width="1.68" height="0.58"/>
<rect x="400.16" y="475.81" width="1.68" height="0.39"/>
<rect x="401.85" y="475.81" width="1.68" height="0.39"/>
<rect x="403.53" y="476.01" width="1.68" height="0.19"/>
<rect x="405.21" y="475.81" width="1.68" height="0.39"/>
<rect x="406.89" y="475.81" width="1.68" height="0.39"/>
<rect x="408.57" y="475.62" width="1.68" height="0.58"/>
<rect x="410.26" y="475.81" width="1.68" height="0.39"/>
<rect x="411.94" y="476.01" width="1.68" height="0.19"/>
<rect x="413.62" y="475.81" width="1.68" height="0.39"/>
<rect x="415.30" y="476.01" width="1.68" height="0.19"/>
<rect x="416.99" y="476.01" width="1.68" height="0.19"/>
<rect x="418.67" y="475.81" width="1.68" height="0.39"/>
<rect x="420.35" y="476.01" width="1.68" height="0.19"/>
<rect x="422.03" y="476.01" width="1.68" height="0.19"/>
</g>
<path d="M253.0,476.2 L261.3,476.2 L261.50,476.20 C261.63,472.17 262.02,459.53 262.30,452.00 C262.58,444.47 262.83,438.00 263.20,431.00 C263.57,424.00 264.03,415.63 264.50,410.00 C264.97,404.37 265.38,401.28 266.00,397.20 C266.62,393.12 267.47,388.78 268.20,385.50 C268.93,382.22 269.55,380.05 270.40,377.50 C271.25,374.95 272.33,372.27 273.30,370.20 C274.27,368.13 275.10,366.73 276.20,365.10 C277.30,363.47 278.57,361.82 279.90,360.40 C281.23,358.98 282.75,357.83 284.20,356.60 C285.65,355.37 287.13,354.32 288.60,353.00 C290.07,351.68 291.30,350.10 293.00,348.70 C294.70,347.30 296.85,345.97 298.80,344.60 C300.75,343.23 302.75,341.72 304.70,340.50 C306.65,339.28 308.55,338.27 310.50,337.30 C312.45,336.33 314.48,335.43 316.40,334.70 C318.32,333.97 319.72,333.53 322.00,332.90 C324.28,332.27 327.28,331.58 330.10,330.90 C332.92,330.22 336.42,329.38 338.90,328.80 C341.38,328.22 341.48,328.00 345.00,327.40 C348.52,326.80 355.00,325.83 360.00,325.20 C365.00,324.57 370.00,324.07 375.00,323.60 C380.00,323.13 385.00,322.77 390.00,322.40 C395.00,322.03 400.33,321.67 405.00,321.40 C409.67,321.13 413.62,320.97 418.00,320.80 C422.38,320.63 429.08,320.47 431.30,320.40" fill="none" stroke="#f01c1c" stroke-width="1.25" stroke-linejoin="round"/>
<line x1="250.40" y1="476.20" x2="253.00" y2="476.20" stroke="#2b2320" stroke-width="0.9"/>
<text x="249.30" y="478.70" font-size="8.3" fill="#3f3f3f" text-anchor="end" stroke="#3f3f3f" stroke-width="0.12">0</text>
<line x1="250.40" y1="437.25" x2="253.00" y2="437.25" stroke="#2b2320" stroke-width="0.9"/>
<text x="249.30" y="439.75" font-size="8.3" fill="#3f3f3f" text-anchor="end" stroke="#3f3f3f" stroke-width="0.12">200</text>
<line x1="250.40" y1="398.30" x2="253.00" y2="398.30" stroke="#2b2320" stroke-width="0.9"/>
<text x="249.30" y="400.80" font-size="8.3" fill="#3f3f3f" text-anchor="end" stroke="#3f3f3f" stroke-width="0.12">400</text>
<line x1="250.40" y1="359.35" x2="253.00" y2="359.35" stroke="#2b2320" stroke-width="0.9"/>
<text x="249.30" y="361.85" font-size="8.3" fill="#3f3f3f" text-anchor="end" stroke="#3f3f3f" stroke-width="0.12">600</text>
<line x1="250.40" y1="320.40" x2="253.00" y2="320.40" stroke="#2b2320" stroke-width="0.9"/>
<text x="249.30" y="322.90" font-size="8.3" fill="#3f3f3f" text-anchor="end" stroke="#3f3f3f" stroke-width="0.12">800</text>
<line x1="261.40" y1="484.30" x2="261.40" y2="486.90" stroke="#2b2320" stroke-width="0.9"/>
<text x="261.40" y="494.20" font-size="8.3" fill="#3f3f3f" text-anchor="middle" stroke="#3f3f3f" stroke-width="0.12">0.0</text>
<line x1="303.45" y1="484.30" x2="303.45" y2="486.90" stroke="#2b2320" stroke-width="0.9"/>
<text x="303.45" y="494.20" font-size="8.3" fill="#3f3f3f" text-anchor="middle" stroke="#3f3f3f" stroke-width="0.12">2.5</text>
<line x1="345.50" y1="484.30" x2="345.50" y2="486.90" stroke="#2b2320" stroke-width="0.9"/>
<text x="345.50" y="494.20" font-size="8.3" fill="#3f3f3f" text-anchor="middle" stroke="#3f3f3f" stroke-width="0.12">5.0</text>
<line x1="387.55" y1="484.30" x2="387.55" y2="486.90" stroke="#2b2320" stroke-width="0.9"/>
<text x="387.55" y="494.20" font-size="8.3" fill="#3f3f3f" text-anchor="middle" stroke="#3f3f3f" stroke-width="0.12">7.5</text>
<line x1="429.60" y1="484.30" x2="429.60" y2="486.90" stroke="#2b2320" stroke-width="0.9"/>
<text x="429.60" y="494.20" font-size="8.3" fill="#3f3f3f" text-anchor="middle" stroke="#3f3f3f" stroke-width="0.12">10.0</text>
<line x1="431.30" y1="476.20" x2="433.70" y2="476.20" stroke="#2b2320" stroke-width="0.9"/>
<text x="435.00" y="478.80" font-size="8.3" fill="#f0282d" text-anchor="start" stroke="#f0282d" stroke-width="0.12">0</text>
<line x1="431.30" y1="437.25" x2="433.70" y2="437.25" stroke="#2b2320" stroke-width="0.9"/>
<text x="435.00" y="439.85" font-size="8.3" fill="#f0282d" text-anchor="start" stroke="#f0282d" stroke-width="0.12">25</text>
<line x1="431.30" y1="398.30" x2="433.70" y2="398.30" stroke="#2b2320" stroke-width="0.9"/>
<text x="435.00" y="400.90" font-size="8.3" fill="#f0282d" text-anchor="start" stroke="#f0282d" stroke-width="0.12">50</text>
<line x1="431.30" y1="359.35" x2="433.70" y2="359.35" stroke="#2b2320" stroke-width="0.9"/>
<text x="435.00" y="361.95" font-size="8.3" fill="#f0282d" text-anchor="start" stroke="#f0282d" stroke-width="0.12">75</text>
<line x1="431.30" y1="320.40" x2="433.70" y2="320.40" stroke="#2b2320" stroke-width="0.9"/>
<text x="435.00" y="323.00" font-size="8.3" fill="#f0282d" text-anchor="start" stroke="#f0282d" stroke-width="0.12">100</text>
<text x="350.40" y="504.00" font-size="8.95" fill="#231f20" text-anchor="middle" stroke="#231f20" stroke-width="0.12">Resolution of crossovers (Mb)</text>
<text x="233.40" y="395.50" font-size="8.95" fill="#231f20" text-anchor="middle" transform="rotate(-90 233.40 395.50)" stroke="#231f20" stroke-width="0.12">No. of crossover events</text>
<text x="454.00" y="395.00" font-size="8.95" fill="#f0282d" text-anchor="middle" transform="rotate(-90 454.00 395.00)" stroke="#f0282d" stroke-width="0.12">Cumulative percentage (%)</text>
<text x="477.00" y="305.80" font-size="12" fill="#000" text-anchor="start" font-weight="bold" stroke="#000" stroke-width="0.12">f</text>
<rect x="497.60" y="314.10" width="182.70" height="170.00" fill="#ffffff" stroke="#2b2320" stroke-width="1.2"/>
<path d="M506.20,457.40 C506.90,455.12 508.87,448.78 510.40,443.70 C511.93,438.62 513.73,432.50 515.40,426.90 C517.07,421.30 518.87,415.42 520.40,410.10 C521.93,404.78 523.20,399.63 524.60,395.00 C526.00,390.37 527.25,385.40 528.80,382.30 C530.35,379.20 532.35,377.58 533.90,376.40 C535.45,375.22 536.70,375.13 538.10,375.20 C539.50,375.27 540.77,375.48 542.30,376.80 C543.83,378.12 545.63,380.50 547.30,383.10 C548.97,385.70 550.62,389.88 552.30,392.40 C553.98,394.92 555.72,396.72 557.40,398.20 C559.08,399.68 560.45,400.40 562.40,401.30 C564.35,402.20 567.00,402.88 569.10,403.60 C571.20,404.32 572.88,405.02 575.00,405.60 C577.12,406.18 579.55,407.02 581.80,407.10 C584.05,407.18 586.27,406.40 588.50,406.10 C590.73,405.80 592.68,405.30 595.20,405.30 C597.72,405.30 600.95,405.85 603.60,406.10 C606.25,406.35 609.15,406.85 611.10,406.80 C613.05,406.75 613.75,406.67 615.30,405.80 C616.85,404.93 618.43,403.28 620.40,401.60 C622.37,399.92 625.15,397.38 627.10,395.70 C629.05,394.02 630.57,393.32 632.10,391.50 C633.63,389.68 634.90,388.30 636.30,384.80 C637.70,381.30 639.10,375.67 640.50,370.50 C641.90,365.33 643.43,358.13 644.70,353.80 C645.97,349.47 647.18,346.33 648.10,344.50 C649.02,342.67 649.37,342.65 650.20,342.80 C651.03,342.95 652.05,343.02 653.10,345.40 C654.15,347.78 655.38,351.78 656.50,357.10 C657.62,362.42 658.68,370.02 659.80,377.30 C660.92,384.58 662.13,393.35 663.20,400.80 C664.27,408.25 665.22,415.18 666.20,422.00 C667.18,428.82 668.62,438.42 669.10,441.70" fill="none" stroke="#e8212b" stroke-width="1.6" stroke-linejoin="round" stroke-linecap="butt"/>
<path d="M506.20,476.40 C506.90,475.57 508.87,473.78 510.40,471.40 C511.93,469.02 513.73,465.88 515.40,462.10 C517.07,458.32 518.72,453.73 520.40,448.70 C522.08,443.67 523.82,437.50 525.50,431.90 C527.18,426.30 528.83,419.72 530.50,415.10 C532.17,410.48 533.82,406.77 535.50,404.20 C537.18,401.63 538.92,400.60 540.60,399.70 C542.28,398.80 543.92,398.98 545.60,398.80 C547.28,398.62 549.02,399.00 550.70,398.60 C552.38,398.20 554.03,397.30 555.70,396.40 C557.37,395.50 559.02,394.15 560.70,393.20 C562.38,392.25 564.25,391.32 565.80,390.70 C567.35,390.08 568.60,389.47 570.00,389.50 C571.40,389.53 572.80,390.15 574.20,390.90 C575.60,391.65 576.87,393.12 578.40,394.00 C579.93,394.88 581.72,395.63 583.40,396.20 C585.08,396.77 586.82,396.92 588.50,397.40 C590.18,397.88 591.97,398.65 593.50,399.10 C595.03,399.55 596.30,400.38 597.70,400.10 C599.10,399.82 600.37,398.68 601.90,397.40 C603.43,396.12 605.37,393.52 606.90,392.40 C608.43,391.28 609.70,390.77 611.10,390.70 C612.50,390.63 613.75,391.45 615.30,392.00 C616.85,392.55 618.72,393.75 620.40,394.00 C622.08,394.25 623.73,393.92 625.40,393.50 C627.07,393.08 628.87,392.53 630.40,391.50 C631.93,390.47 633.20,389.67 634.60,387.30 C636.00,384.93 637.25,382.05 638.80,377.30 C640.35,372.55 642.22,365.52 643.90,358.80 C645.58,352.08 647.37,342.73 648.90,337.00 C650.43,331.27 651.90,327.00 653.10,324.40 C654.30,321.80 655.12,321.40 656.10,321.40 C657.08,321.40 657.97,321.53 659.00,324.40 C660.03,327.27 661.18,331.47 662.30,338.60 C663.42,345.73 664.57,355.10 665.70,367.20 C666.83,379.30 668.53,403.87 669.10,411.20" fill="none" stroke="#3f87c6" stroke-width="1.6" stroke-linejoin="round" stroke-linecap="butt"/>
<line x1="506.20" y1="327.70" x2="515.40" y2="327.70" stroke="#e8212b" stroke-width="1.6"/>
<line x1="506.20" y1="339.50" x2="515.40" y2="339.50" stroke="#3f87c6" stroke-width="1.6"/>
<text x="520.80" y="330.00" font-size="8.3" fill="#231f20" text-anchor="start" stroke="#231f20" stroke-width="0.12">Female</text>
<text x="520.80" y="342.00" font-size="8.3" fill="#231f20" text-anchor="start" stroke="#231f20" stroke-width="0.12">Male</text>
<line x1="495.00" y1="480.60" x2="497.60" y2="480.60" stroke="#2b2320" stroke-width="0.9"/>
<text x="494.40" y="483.10" font-size="8.2" fill="#3f3f3f" text-anchor="end" stroke="#3f3f3f" stroke-width="0.12">0.0</text>
<line x1="495.00" y1="438.30" x2="497.60" y2="438.30" stroke="#2b2320" stroke-width="0.9"/>
<text x="494.40" y="440.80" font-size="8.2" fill="#3f3f3f" text-anchor="end" stroke="#3f3f3f" stroke-width="0.12">0.5</text>
<line x1="495.00" y1="396.00" x2="497.60" y2="396.00" stroke="#2b2320" stroke-width="0.9"/>
<text x="494.40" y="398.50" font-size="8.2" fill="#3f3f3f" text-anchor="end" stroke="#3f3f3f" stroke-width="0.12">1.0</text>
<line x1="495.00" y1="353.70" x2="497.60" y2="353.70" stroke="#2b2320" stroke-width="0.9"/>
<text x="494.40" y="356.20" font-size="8.2" fill="#3f3f3f" text-anchor="end" stroke="#3f3f3f" stroke-width="0.12">1.5</text>
<line x1="501.50" y1="484.10" x2="501.50" y2="486.70" stroke="#2b2320" stroke-width="0.9"/>
<text x="501.50" y="494.00" font-size="8.2" fill="#3f3f3f" text-anchor="middle" stroke="#3f3f3f" stroke-width="0.12">0.00</text>
<line x1="543.40" y1="484.10" x2="543.40" y2="486.70" stroke="#2b2320" stroke-width="0.9"/>
<text x="543.40" y="494.00" font-size="8.2" fill="#3f3f3f" text-anchor="middle" stroke="#3f3f3f" stroke-width="0.12">0.25</text>
<line x1="585.30" y1="484.10" x2="585.30" y2="486.70" stroke="#2b2320" stroke-width="0.9"/>
<text x="585.30" y="494.00" font-size="8.2" fill="#3f3f3f" text-anchor="middle" stroke="#3f3f3f" stroke-width="0.12">0.50</text>
<line x1="627.20" y1="484.10" x2="627.20" y2="486.70" stroke="#2b2320" stroke-width="0.9"/>
<text x="627.20" y="494.00" font-size="8.2" fill="#3f3f3f" text-anchor="middle" stroke="#3f3f3f" stroke-width="0.12">0.75</text>
<line x1="669.10" y1="484.10" x2="669.10" y2="486.70" stroke="#2b2320" stroke-width="0.9"/>
<text x="669.10" y="494.00" font-size="8.2" fill="#3f3f3f" text-anchor="middle" stroke="#3f3f3f" stroke-width="0.12">1.00</text>
<text x="589.00" y="504.00" font-size="8.95" fill="#231f20" text-anchor="middle" stroke="#231f20" stroke-width="0.12">Normalized position</text>
<text x="472.90" y="439.40" font-size="8.95" fill="#231f20" text-anchor="start" transform="rotate(-90 472.90 439.40)" stroke="#231f20" stroke-width="0.12">Crossover density plot</text>
<text x="480.00" y="443.40" font-size="8.95" fill="#231f20" text-anchor="start" transform="rotate(-90 480.00 443.40)" stroke="#231f20" stroke-width="0.12">(scaled by crossover rate)</text>
<text x="2.50" y="515.70" font-size="12" fill="#000" text-anchor="start" font-weight="bold" stroke="#000" stroke-width="0.12">g</text>
<rect x="25.50" y="516.30" width="367.30" height="172.10" fill="#ffffff" stroke="#2b2320" stroke-width="1.2"/>
<rect x="30.05" y="536.02" width="12.70" height="144.68" fill="#6adfff" stroke="#2fd0fd" stroke-width="1.1"/>
<text x="36.40" y="533.52" font-size="7.1" fill="#2a2a2a" text-anchor="middle" stroke-opacity="0" stroke="#2a2a2a" stroke-width="0.12">1.016</text>
<line x1="36.40" y1="688.40" x2="36.40" y2="691.00" stroke="#2b2320" stroke-width="0.9"/>
<text x="36.40" y="698.30" font-size="8.3" fill="#3f3f3f" text-anchor="middle" stroke="#3f3f3f" stroke-width="0.12">1</text>
<rect x="48.22" y="557.85" width="12.70" height="122.85" fill="#6adfff" stroke="#2fd0fd" stroke-width="1.1"/>
<text x="54.57" y="555.35" font-size="7.1" fill="#2a2a2a" text-anchor="middle" stroke-opacity="0" stroke="#2a2a2a" stroke-width="0.12">0.863</text>
<line x1="54.57" y1="688.40" x2="54.57" y2="691.00" stroke="#2b2320" stroke-width="0.9"/>
<text x="54.57" y="698.30" font-size="8.3" fill="#3f3f3f" text-anchor="middle" stroke="#3f3f3f" stroke-width="0.12">2</text>
<rect x="66.39" y="563.42" width="12.70" height="117.28" fill="#6adfff" stroke="#2fd0fd" stroke-width="1.1"/>
<text x="72.74" y="560.92" font-size="7.1" fill="#2a2a2a" text-anchor="middle" stroke-opacity="0" stroke="#2a2a2a" stroke-width="0.12">0.824</text>
<line x1="72.74" y1="688.40" x2="72.74" y2="691.00" stroke="#2b2320" stroke-width="0.9"/>
<text x="72.74" y="698.30" font-size="8.3" fill="#3f3f3f" text-anchor="middle" stroke="#3f3f3f" stroke-width="0.12">3</text>
<rect x="84.56" y="549.00" width="12.70" height="131.70" fill="#6adfff" stroke="#2fd0fd" stroke-width="1.1"/>
<text x="90.91" y="546.50" font-size="7.1" fill="#2a2a2a" text-anchor="middle" stroke-opacity="0" stroke="#2a2a2a" stroke-width="0.12">0.925</text>
<line x1="90.91" y1="688.40" x2="90.91" y2="691.00" stroke="#2b2320" stroke-width="0.9"/>
<text x="90.91" y="698.30" font-size="8.3" fill="#3f3f3f" text-anchor="middle" stroke="#3f3f3f" stroke-width="0.12">4</text>
<rect x="102.73" y="565.70" width="12.70" height="115.00" fill="#6adfff" stroke="#2fd0fd" stroke-width="1.1"/>
<text x="109.08" y="563.20" font-size="7.1" fill="#2a2a2a" text-anchor="middle" stroke-opacity="0" stroke="#2a2a2a" stroke-width="0.12">0.808</text>
<line x1="109.08" y1="688.40" x2="109.08" y2="691.00" stroke="#2b2320" stroke-width="0.9"/>
<text x="109.08" y="698.30" font-size="8.3" fill="#3f3f3f" text-anchor="middle" stroke="#3f3f3f" stroke-width="0.12">5</text>
<rect x="120.90" y="570.26" width="12.70" height="110.44" fill="#6adfff" stroke="#2fd0fd" stroke-width="1.1"/>
<text x="127.25" y="567.76" font-size="7.1" fill="#2a2a2a" text-anchor="middle" stroke-opacity="0" stroke="#2a2a2a" stroke-width="0.12">0.776</text>
<line x1="127.25" y1="688.40" x2="127.25" y2="691.00" stroke="#2b2320" stroke-width="0.9"/>
<text x="127.25" y="698.30" font-size="8.3" fill="#3f3f3f" text-anchor="middle" stroke="#3f3f3f" stroke-width="0.12">6</text>
<rect x="139.07" y="571.26" width="12.70" height="109.44" fill="#6adfff" stroke="#2fd0fd" stroke-width="1.1"/>
<text x="145.42" y="568.76" font-size="7.1" fill="#2a2a2a" text-anchor="middle" stroke-opacity="0" stroke="#2a2a2a" stroke-width="0.12">0.769</text>
<line x1="145.42" y1="688.40" x2="145.42" y2="691.00" stroke="#2b2320" stroke-width="0.9"/>
<text x="145.42" y="698.30" font-size="8.3" fill="#3f3f3f" text-anchor="middle" stroke="#3f3f3f" stroke-width="0.12">7</text>
<rect x="157.24" y="603.23" width="12.70" height="77.47" fill="#6adfff" stroke="#2fd0fd" stroke-width="1.1"/>
<text x="163.59" y="600.73" font-size="7.1" fill="#2a2a2a" text-anchor="middle" stroke-opacity="0" stroke="#2a2a2a" stroke-width="0.12">0.545</text>
<line x1="163.59" y1="688.40" x2="163.59" y2="691.00" stroke="#2b2320" stroke-width="0.9"/>
<text x="163.59" y="698.30" font-size="8.3" fill="#3f3f3f" text-anchor="middle" stroke="#3f3f3f" stroke-width="0.12">8</text>
<rect x="175.41" y="606.08" width="12.70" height="74.62" fill="#6adfff" stroke="#2fd0fd" stroke-width="1.1"/>
<text x="181.76" y="603.58" font-size="7.1" fill="#2a2a2a" text-anchor="middle" stroke-opacity="0" stroke="#2a2a2a" stroke-width="0.12">0.525</text>
<line x1="181.76" y1="688.40" x2="181.76" y2="691.00" stroke="#2b2320" stroke-width="0.9"/>
<text x="181.76" y="698.30" font-size="8.3" fill="#3f3f3f" text-anchor="middle" stroke="#3f3f3f" stroke-width="0.12">9</text>
<rect x="193.58" y="592.53" width="12.70" height="88.17" fill="#6adfff" stroke="#2fd0fd" stroke-width="1.1"/>
<text x="199.93" y="590.03" font-size="7.1" fill="#2a2a2a" text-anchor="middle" stroke-opacity="0" stroke="#2a2a2a" stroke-width="0.12">0.62</text>
<line x1="199.93" y1="688.40" x2="199.93" y2="691.00" stroke="#2b2320" stroke-width="0.9"/>
<text x="199.93" y="698.30" font-size="8.3" fill="#3f3f3f" text-anchor="middle" stroke="#3f3f3f" stroke-width="0.12">10</text>
<rect x="211.75" y="572.41" width="12.70" height="108.29" fill="#6adfff" stroke="#2fd0fd" stroke-width="1.1"/>
<text x="218.10" y="569.91" font-size="7.1" fill="#2a2a2a" text-anchor="middle" stroke-opacity="0" stroke="#2a2a2a" stroke-width="0.12">0.761</text>
<line x1="218.10" y1="688.40" x2="218.10" y2="691.00" stroke="#2b2320" stroke-width="0.9"/>
<text x="218.10" y="698.30" font-size="8.3" fill="#3f3f3f" text-anchor="middle" stroke="#3f3f3f" stroke-width="0.12">11</text>
<rect x="229.92" y="587.53" width="12.70" height="93.17" fill="#6adfff" stroke="#2fd0fd" stroke-width="1.1"/>
<text x="236.27" y="585.03" font-size="7.1" fill="#2a2a2a" text-anchor="middle" stroke-opacity="0" stroke="#2a2a2a" stroke-width="0.12">0.655</text>
<line x1="236.27" y1="688.40" x2="236.27" y2="691.00" stroke="#2b2320" stroke-width="0.9"/>
<text x="236.27" y="698.30" font-size="8.3" fill="#3f3f3f" text-anchor="middle" stroke="#3f3f3f" stroke-width="0.12">12</text>
<rect x="248.09" y="597.09" width="12.70" height="83.61" fill="#6adfff" stroke="#2fd0fd" stroke-width="1.1"/>
<text x="254.44" y="594.59" font-size="7.1" fill="#2a2a2a" text-anchor="middle" stroke-opacity="0" stroke="#2a2a2a" stroke-width="0.12">0.588</text>
<line x1="254.44" y1="688.40" x2="254.44" y2="691.00" stroke="#2b2320" stroke-width="0.9"/>
<text x="254.44" y="698.30" font-size="8.3" fill="#3f3f3f" text-anchor="middle" stroke="#3f3f3f" stroke-width="0.12">13</text>
<rect x="266.26" y="590.96" width="12.70" height="89.74" fill="#6adfff" stroke="#2fd0fd" stroke-width="1.1"/>
<text x="272.61" y="588.46" font-size="7.1" fill="#2a2a2a" text-anchor="middle" stroke-opacity="0" stroke="#2a2a2a" stroke-width="0.12">0.631</text>
<line x1="272.61" y1="688.40" x2="272.61" y2="691.00" stroke="#2b2320" stroke-width="0.9"/>
<text x="272.61" y="698.30" font-size="8.3" fill="#3f3f3f" text-anchor="middle" stroke="#3f3f3f" stroke-width="0.12">14</text>
<rect x="284.43" y="609.94" width="12.70" height="70.76" fill="#6adfff" stroke="#2fd0fd" stroke-width="1.1"/>
<text x="290.78" y="607.44" font-size="7.1" fill="#2a2a2a" text-anchor="middle" stroke-opacity="0" stroke="#2a2a2a" stroke-width="0.12">0.498</text>
<line x1="290.78" y1="688.40" x2="290.78" y2="691.00" stroke="#2b2320" stroke-width="0.9"/>
<text x="290.78" y="698.30" font-size="8.3" fill="#3f3f3f" text-anchor="middle" stroke="#3f3f3f" stroke-width="0.12">15</text>
<rect x="302.60" y="602.66" width="12.70" height="78.04" fill="#6adfff" stroke="#2fd0fd" stroke-width="1.1"/>
<text x="308.95" y="600.16" font-size="7.1" fill="#2a2a2a" text-anchor="middle" stroke-opacity="0" stroke="#2a2a2a" stroke-width="0.12">0.549</text>
<line x1="308.95" y1="688.40" x2="308.95" y2="691.00" stroke="#2b2320" stroke-width="0.9"/>
<text x="308.95" y="698.30" font-size="8.3" fill="#3f3f3f" text-anchor="middle" stroke="#3f3f3f" stroke-width="0.12">16</text>
<rect x="320.77" y="591.96" width="12.70" height="88.74" fill="#6adfff" stroke="#2fd0fd" stroke-width="1.1"/>
<text x="327.12" y="589.46" font-size="7.1" fill="#2a2a2a" text-anchor="middle" stroke-opacity="0" stroke="#2a2a2a" stroke-width="0.12">0.624</text>
<line x1="327.12" y1="688.40" x2="327.12" y2="691.00" stroke="#2b2320" stroke-width="0.9"/>
<text x="327.12" y="698.30" font-size="8.3" fill="#3f3f3f" text-anchor="middle" stroke="#3f3f3f" stroke-width="0.12">17</text>
<rect x="338.94" y="617.21" width="12.70" height="63.49" fill="#6adfff" stroke="#2fd0fd" stroke-width="1.1"/>
<text x="345.29" y="614.71" font-size="7.1" fill="#2a2a2a" text-anchor="middle" stroke-opacity="0" stroke="#2a2a2a" stroke-width="0.12">0.447</text>
<line x1="345.29" y1="688.40" x2="345.29" y2="691.00" stroke="#2b2320" stroke-width="0.9"/>
<text x="345.29" y="698.30" font-size="8.3" fill="#3f3f3f" text-anchor="middle" stroke="#3f3f3f" stroke-width="0.12">18</text>
<rect x="357.11" y="612.79" width="12.70" height="67.91" fill="#6adfff" stroke="#2fd0fd" stroke-width="1.1"/>
<text x="363.46" y="610.29" font-size="7.1" fill="#2a2a2a" text-anchor="middle" stroke-opacity="0" stroke="#2a2a2a" stroke-width="0.12">0.478</text>
<line x1="363.46" y1="688.40" x2="363.46" y2="691.00" stroke="#2b2320" stroke-width="0.9"/>
<text x="363.46" y="698.30" font-size="8.3" fill="#3f3f3f" text-anchor="middle" stroke="#3f3f3f" stroke-width="0.12">19</text>
<rect x="375.28" y="597.66" width="12.70" height="83.04" fill="#6adfff" stroke="#2fd0fd" stroke-width="1.1"/>
<text x="381.63" y="595.16" font-size="7.1" fill="#2a2a2a" text-anchor="middle" stroke-opacity="0" stroke="#2a2a2a" stroke-width="0.12">0.584</text>
<line x1="381.63" y1="688.40" x2="381.63" y2="691.00" stroke="#2b2320" stroke-width="0.9"/>
<text x="381.63" y="698.30" font-size="8.3" fill="#3f3f3f" text-anchor="middle" stroke="#3f3f3f" stroke-width="0.12">X</text>
<line x1="22.90" y1="680.70" x2="25.50" y2="680.70" stroke="#2b2320" stroke-width="0.9"/>
<text x="22.90" y="683.20" font-size="8.3" fill="#3f3f3f" text-anchor="end" stroke="#3f3f3f" stroke-width="0.12">0.0</text>
<line x1="22.90" y1="637.89" x2="25.50" y2="637.89" stroke="#2b2320" stroke-width="0.9"/>
<text x="22.90" y="640.39" font-size="8.3" fill="#3f3f3f" text-anchor="end" stroke="#3f3f3f" stroke-width="0.12">0.3</text>
<line x1="22.90" y1="595.08" x2="25.50" y2="595.08" stroke="#2b2320" stroke-width="0.9"/>
<text x="22.90" y="597.58" font-size="8.3" fill="#3f3f3f" text-anchor="end" stroke="#3f3f3f" stroke-width="0.12">0.6</text>
<line x1="22.90" y1="552.27" x2="25.50" y2="552.27" stroke="#2b2320" stroke-width="0.9"/>
<text x="22.90" y="554.77" font-size="8.3" fill="#3f3f3f" text-anchor="end" stroke="#3f3f3f" stroke-width="0.12">0.9</text>
<text x="208.00" y="707.60" font-size="8.95" fill="#231f20" text-anchor="middle" stroke="#231f20" stroke-width="0.12">Chromosome</text>
<text x="7.80" y="598.40" font-size="8.95" fill="#231f20" text-anchor="middle" transform="rotate(-90 7.80 598.40)" stroke="#231f20" stroke-width="0.12">Crossover frequency</text>
<text x="476.50" y="516.00" font-size="12" fill="#000" text-anchor="start" font-weight="bold" stroke="#000" stroke-width="0.12">h</text>
<rect x="497.80" y="512.80" width="182.00" height="171.90" fill="#ffffff" stroke="#2b2320" stroke-width="1.2"/>
<g fill="#000">
<circle cx="502.9" cy="638.4" r="3.5"/>
<circle cx="540.1" cy="645.5" r="3.5"/>
<circle cx="545.3" cy="606.6" r="3.5"/>
<circle cx="550.1" cy="623.0" r="3.5"/>
<circle cx="557.8" cy="634.2" r="3.5"/>
<circle cx="578.0" cy="599.9" r="3.5"/>
<circle cx="578.4" cy="614.0" r="3.5"/>
<circle cx="580.6" cy="576.4" r="3.5"/>
<circle cx="583.5" cy="605.0" r="3.5"/>
<circle cx="583.5" cy="628.1" r="3.5"/>
<circle cx="589.9" cy="623.6" r="3.5"/>
<circle cx="591.2" cy="607.3" r="3.5"/>
<circle cx="610.5" cy="574.8" r="3.5"/>
<circle cx="615.3" cy="573.2" r="3.5"/>
<circle cx="617.9" cy="566.5" r="3.5"/>
<circle cx="624.3" cy="540.5" r="3.5"/>
<circle cx="629.4" cy="562.9" r="3.5"/>
<circle cx="643.5" cy="615.0" r="3.5"/>
<circle cx="657.4" cy="554.3" r="3.5"/>
<circle cx="674.1" cy="520.9" r="3.5"/>
</g>
<path d="M503.00,632.30 C506.53,630.63 517.13,625.55 524.20,622.30 C531.27,619.05 540.05,615.35 545.40,612.80 C550.75,610.25 552.53,609.07 556.30,607.00 C560.07,604.93 564.35,602.47 568.00,600.40 C571.65,598.33 573.70,597.15 578.20,594.60 C582.70,592.05 590.50,587.77 595.00,585.10 C599.50,582.43 600.15,582.23 605.20,578.60 C610.25,574.97 618.60,568.53 625.30,563.30 C632.00,558.07 638.70,552.38 645.40,547.20 C652.10,542.02 660.73,535.90 665.50,532.20 C670.27,528.50 672.58,526.20 674.00,525.00 L674.00,562.70 C672.58,563.30 670.27,563.85 665.50,566.30 C660.73,568.75 652.10,573.72 645.40,577.40 C638.70,581.08 632.00,584.83 625.30,588.40 C618.60,591.97 610.85,595.82 605.20,598.80 C599.55,601.78 595.90,603.60 591.40,606.30 C586.90,609.00 583.80,610.87 578.20,615.00 C572.60,619.13 564.12,626.05 557.80,631.10 C551.48,636.15 549.43,637.72 540.30,645.30 C531.17,652.88 509.22,671.38 503.00,676.60 Z" fill="#999999" stroke="none" stroke-width="1" fill-opacity="0.4"/>
<line x1="502.89" y1="654.78" x2="674.06" y2="541.75" stroke="#3a68b3" stroke-width="1.4"/>
<line x1="495.20" y1="655.10" x2="497.80" y2="655.10" stroke="#2b2320" stroke-width="0.9"/>
<text x="494.50" y="657.60" font-size="8.3" fill="#3f3f3f" text-anchor="end" stroke="#3f3f3f" stroke-width="0.12">0.4</text>
<line x1="495.20" y1="611.40" x2="497.80" y2="611.40" stroke="#2b2320" stroke-width="0.9"/>
<text x="494.50" y="613.90" font-size="8.3" fill="#3f3f3f" text-anchor="end" stroke="#3f3f3f" stroke-width="0.12">0.6</text>
<line x1="495.20" y1="567.70" x2="497.80" y2="567.70" stroke="#2b2320" stroke-width="0.9"/>
<text x="494.50" y="570.20" font-size="8.3" fill="#3f3f3f" text-anchor="end" stroke="#3f3f3f" stroke-width="0.12">0.8</text>
<line x1="495.20" y1="524.00" x2="497.80" y2="524.00" stroke="#2b2320" stroke-width="0.9"/>
<text x="494.50" y="526.50" font-size="8.3" fill="#3f3f3f" text-anchor="end" stroke="#3f3f3f" stroke-width="0.12">1.0</text>
<line x1="551.50" y1="684.70" x2="551.50" y2="687.30" stroke="#2b2320" stroke-width="0.9"/>
<text x="551.50" y="694.60" font-size="8.3" fill="#3f3f3f" text-anchor="middle" stroke="#3f3f3f" stroke-width="0.12">100</text>
<line x1="615.55" y1="684.70" x2="615.55" y2="687.30" stroke="#2b2320" stroke-width="0.9"/>
<text x="615.55" y="694.60" font-size="8.3" fill="#3f3f3f" text-anchor="middle" stroke="#3f3f3f" stroke-width="0.12">150</text>
<line x1="679.60" y1="684.70" x2="679.60" y2="687.30" stroke="#2b2320" stroke-width="0.9"/>
<text x="679.60" y="694.60" font-size="8.3" fill="#3f3f3f" text-anchor="middle" stroke="#3f3f3f" stroke-width="0.12">200</text>
<text x="593.20" y="704.90" font-size="9.05" fill="#231f20" text-anchor="middle" stroke="#231f20" stroke-width="0.12">Chromosome size (Mb)</text>
<text x="477.00" y="591.50" font-size="8.95" fill="#231f20" text-anchor="middle" transform="rotate(-90 477.00 591.50)" stroke="#231f20" stroke-width="0.12">Crossover frequency</text>
<text x="3.90" y="725.50" font-size="12" fill="#000" text-anchor="start" font-weight="bold" stroke="#000" stroke-width="0.12">i</text>
<rect x="37.70" y="725.00" width="327.00" height="158.10" fill="#ffffff" stroke="#2b2320" stroke-width="1.2"/>
<g fill="#87ceeb" stroke="#8a8a8a" stroke-width="0.8">
<rect x="54.40" y="849.52" width="3.77" height="26.28"/>
<rect x="58.16" y="869.23" width="3.77" height="6.57"/>
<rect x="61.93" y="862.66" width="3.77" height="13.14"/>
<rect x="65.69" y="862.66" width="3.77" height="13.14"/>
<rect x="73.22" y="869.23" width="3.77" height="6.57"/>
<rect x="84.52" y="869.23" width="3.77" height="6.57"/>
<rect x="88.28" y="869.23" width="3.77" height="6.57"/>
<rect x="92.05" y="856.09" width="3.77" height="19.71"/>
<rect x="95.81" y="849.52" width="3.77" height="26.28"/>
<rect x="99.58" y="856.09" width="3.77" height="19.71"/>
<rect x="103.34" y="842.95" width="3.77" height="32.85"/>
<rect x="107.11" y="869.23" width="3.77" height="6.57"/>
<rect x="110.88" y="842.95" width="3.77" height="32.85"/>
<rect x="114.64" y="836.38" width="3.77" height="39.42"/>
<rect x="118.41" y="849.52" width="3.77" height="26.28"/>
<rect x="122.17" y="829.81" width="3.77" height="45.99"/>
<rect x="125.94" y="823.24" width="3.77" height="52.56"/>
<rect x="129.70" y="810.10" width="3.77" height="65.70"/>
<rect x="133.47" y="816.67" width="3.77" height="59.13"/>
<rect x="137.23" y="770.68" width="3.77" height="105.12"/>
<rect x="141.00" y="810.10" width="3.77" height="65.70"/>
<rect x="144.76" y="816.67" width="3.77" height="59.13"/>
<rect x="148.53" y="770.68" width="3.77" height="105.12"/>
<rect x="152.29" y="816.67" width="3.77" height="59.13"/>
<rect x="156.06" y="823.24" width="3.77" height="52.56"/>
<rect x="159.82" y="810.10" width="3.77" height="65.70"/>
<rect x="163.59" y="777.25" width="3.77" height="98.55"/>
<rect x="167.35" y="842.95" width="3.77" height="32.85"/>
<rect x="171.12" y="757.54" width="3.77" height="118.26"/>
<rect x="174.88" y="796.96" width="3.77" height="78.84"/>
<rect x="178.65" y="790.39" width="3.77" height="85.41"/>
<rect x="182.41" y="783.82" width="3.77" height="91.98"/>
<rect x="186.18" y="764.11" width="3.77" height="111.69"/>
<rect x="189.94" y="770.68" width="3.77" height="105.12"/>
<rect x="193.71" y="790.39" width="3.77" height="85.41"/>
<rect x="197.47" y="777.25" width="3.77" height="98.55"/>
<rect x="201.24" y="790.39" width="3.77" height="85.41"/>
<rect x="205.00" y="810.10" width="3.77" height="65.70"/>
<rect x="208.77" y="810.10" width="3.77" height="65.70"/>
<rect x="212.53" y="803.53" width="3.77" height="72.27"/>
<rect x="216.30" y="816.67" width="3.77" height="59.13"/>
<rect x="220.06" y="803.53" width="3.77" height="72.27"/>
<rect x="223.83" y="823.24" width="3.77" height="52.56"/>
<rect x="227.59" y="856.09" width="3.77" height="19.71"/>
<rect x="231.36" y="810.10" width="3.77" height="65.70"/>
<rect x="235.12" y="829.81" width="3.77" height="45.99"/>
<rect x="238.89" y="849.52" width="3.77" height="26.28"/>
<rect x="242.65" y="856.09" width="3.77" height="19.71"/>
<rect x="246.42" y="849.52" width="3.77" height="26.28"/>
<rect x="250.18" y="862.66" width="3.77" height="13.14"/>
<rect x="257.71" y="856.09" width="3.77" height="19.71"/>
<rect x="261.48" y="862.66" width="3.77" height="13.14"/>
<rect x="269.00" y="856.09" width="3.77" height="19.71"/>
<rect x="272.77" y="849.52" width="3.77" height="26.28"/>
<rect x="280.30" y="862.66" width="3.77" height="13.14"/>
<rect x="284.06" y="869.23" width="3.77" height="6.57"/>
<rect x="302.89" y="869.23" width="3.77" height="6.57"/>
<rect x="310.42" y="862.66" width="3.77" height="13.14"/>
</g>
<line x1="54.40" y1="875.80" x2="317.95" y2="875.80" stroke="#9a9a9a" stroke-width="0.8"/>
<path d="M52.20,840.40 C53.05,839.00 55.23,835.23 57.30,832.00 C59.37,828.77 62.17,824.17 64.60,821.00 C67.03,817.83 69.47,815.18 71.90,813.00 C74.33,810.82 76.77,809.07 79.20,807.90 C81.63,806.73 84.07,806.12 86.50,806.00 C88.93,805.88 91.37,806.40 93.80,807.20 C96.23,808.00 98.67,809.35 101.10,810.80 C103.53,812.25 105.97,814.20 108.40,815.90 C110.83,817.60 113.27,819.53 115.70,821.00 C118.13,822.47 120.57,823.65 123.00,824.70 C125.43,825.75 127.47,826.52 130.30,827.30 C133.13,828.08 135.95,828.67 140.00,829.40 C144.05,830.13 149.73,830.95 154.60,831.70 C159.47,832.45 164.33,833.12 169.20,833.90 C174.07,834.68 178.93,835.50 183.80,836.40 C188.67,837.30 193.53,838.22 198.40,839.30 C203.27,840.38 208.13,841.45 213.00,842.90 C217.87,844.35 223.07,846.23 227.60,848.00 C232.13,849.77 236.40,851.80 240.20,853.50 C244.00,855.20 246.98,856.93 250.40,858.20 C253.82,859.47 257.28,860.43 260.70,861.10 C264.12,861.77 267.50,861.88 270.90,862.20 C274.30,862.52 277.70,862.60 281.10,863.00 C284.50,863.40 287.90,863.93 291.30,864.60 C294.70,865.27 298.10,866.15 301.50,867.00 C304.90,867.85 308.28,868.80 311.70,869.70 C315.12,870.60 318.58,871.68 322.00,872.40 C325.42,873.12 328.80,873.57 332.20,874.00 C335.60,874.43 339.50,874.77 342.40,875.00 C345.30,875.23 348.40,875.33 349.60,875.40" fill="none" stroke="#0a0a0a" stroke-width="1.4"/>
<path d="M52.90,867.00 C53.63,866.85 55.83,866.30 57.30,866.10 C58.77,865.90 60.23,865.75 61.70,865.80 C63.17,865.85 64.40,866.15 66.10,866.40 C67.80,866.65 69.97,867.13 71.90,867.30 C73.83,867.47 75.75,867.65 77.70,867.40 C79.65,867.15 81.65,866.55 83.60,865.80 C85.55,865.05 87.45,864.03 89.40,862.90 C91.35,861.77 93.35,860.38 95.30,859.00 C97.25,857.62 99.17,856.18 101.10,854.60 C103.03,853.02 104.95,851.33 106.90,849.50 C108.85,847.67 110.85,845.78 112.80,843.60 C114.75,841.42 116.90,838.70 118.60,836.40 C120.30,834.10 121.53,832.00 123.00,829.80 C124.47,827.60 125.93,825.40 127.40,823.20 C128.87,821.00 130.35,818.55 131.80,816.60 C133.25,814.65 134.65,812.95 136.10,811.50 C137.55,810.05 139.08,808.95 140.50,807.90 C141.92,806.85 143.22,805.93 144.60,805.20 C145.98,804.47 147.13,803.95 148.80,803.50 C150.47,803.05 152.42,803.07 154.60,802.50 C156.78,801.93 159.47,801.15 161.90,800.10 C164.33,799.05 167.02,797.70 169.20,796.20 C171.38,794.70 173.05,792.57 175.00,791.10 C176.95,789.63 178.95,788.30 180.90,787.40 C182.85,786.50 185.00,785.97 186.70,785.70 C188.40,785.43 189.63,785.43 191.10,785.80 C192.57,786.17 193.80,786.77 195.50,787.90 C197.20,789.03 199.35,790.60 201.30,792.60 C203.25,794.60 205.25,797.35 207.20,799.90 C209.15,802.45 211.07,805.27 213.00,807.90 C214.93,810.53 216.85,813.08 218.80,815.70 C220.75,818.32 222.78,821.02 224.70,823.60 C226.62,826.18 228.40,828.63 230.30,831.20 C232.20,833.77 234.10,836.37 236.10,839.00 C238.10,841.63 240.25,844.53 242.30,847.00 C244.35,849.47 246.37,851.87 248.40,853.80 C250.43,855.73 252.45,857.32 254.50,858.60 C256.55,859.88 258.65,860.73 260.70,861.50 C262.75,862.27 264.77,862.65 266.80,863.20 C268.83,863.75 270.85,864.12 272.90,864.80 C274.95,865.48 277.05,866.42 279.10,867.30 C281.15,868.18 283.17,869.28 285.20,870.10 C287.23,870.92 289.27,871.65 291.30,872.20 C293.33,872.75 295.35,873.13 297.40,873.40 C299.45,873.67 301.22,873.70 303.60,873.80 C305.98,873.90 308.63,873.87 311.70,874.00 C314.77,874.13 318.58,874.40 322.00,874.60 C325.42,874.80 328.80,875.03 332.20,875.20 C335.60,875.37 339.50,875.50 342.40,875.60 C345.30,875.70 348.40,875.77 349.60,875.80" fill="none" stroke="#f3121c" stroke-width="1.4"/>
<line x1="132.94" y1="725.00" x2="132.94" y2="883.10" stroke="#111" stroke-width="1.6" stroke-dasharray="7.4 3.6" stroke-dashoffset="3.6"/>
<line x1="179.01" y1="725.00" x2="179.01" y2="883.10" stroke="#ee2a33" stroke-width="1.7" stroke-dasharray="7.4 3.6" stroke-dashoffset="3.6"/>
<text x="129.00" y="740.30" font-size="6.9" fill="#231f20" text-anchor="end" stroke="#231f20" stroke-width="0.12">Random median</text>
<text x="129.00" y="748.50" font-size="6.9" fill="#231f20" text-anchor="end" stroke="#231f20" stroke-width="0.12">distance = 54</text>
<text x="183.30" y="740.30" font-size="6.9" fill="#ee1c25" text-anchor="start" stroke="#ee1c25" stroke-width="0.12">Actual median</text>
<text x="183.30" y="748.50" font-size="6.9" fill="#ee1c25" text-anchor="start" stroke="#ee1c25" stroke-width="0.12">distance = 85</text>
<line x1="272.40" y1="760.20" x2="284.90" y2="760.20" stroke="#0a0a0a" stroke-width="1.1"/>
<line x1="272.40" y1="771.90" x2="284.90" y2="771.90" stroke="#f3121c" stroke-width="1.1"/>
<text x="288.70" y="762.20" font-size="7.6" fill="#231f20" text-anchor="start" stroke="#231f20" stroke-width="0.12">Random simulation</text>
<text x="288.70" y="773.90" font-size="7.6" fill="#231f20" text-anchor="start" stroke="#231f20" stroke-width="0.12">Fit with sperm data</text>
<line x1="35.10" y1="875.90" x2="37.70" y2="875.90" stroke="#2b2320" stroke-width="0.9"/>
<text x="32.90" y="878.90" font-size="8.2" fill="#3f3f3f" text-anchor="end" stroke="#3f3f3f" stroke-width="0.12">0.000</text>
<line x1="35.10" y1="840.95" x2="37.70" y2="840.95" stroke="#2b2320" stroke-width="0.9"/>
<text x="32.90" y="843.95" font-size="8.2" fill="#3f3f3f" text-anchor="end" stroke="#3f3f3f" stroke-width="0.12">0.005</text>
<line x1="35.10" y1="806.00" x2="37.70" y2="806.00" stroke="#2b2320" stroke-width="0.9"/>
<text x="32.90" y="809.00" font-size="8.2" fill="#3f3f3f" text-anchor="end" stroke="#3f3f3f" stroke-width="0.12">0.010</text>
<line x1="35.10" y1="771.05" x2="37.70" y2="771.05" stroke="#2b2320" stroke-width="0.9"/>
<text x="32.90" y="774.05" font-size="8.2" fill="#3f3f3f" text-anchor="end" stroke="#3f3f3f" stroke-width="0.12">0.015</text>
<line x1="35.10" y1="736.10" x2="37.70" y2="736.10" stroke="#2b2320" stroke-width="0.9"/>
<text x="32.90" y="739.10" font-size="8.2" fill="#3f3f3f" text-anchor="end" stroke="#3f3f3f" stroke-width="0.12">0.020</text>
<line x1="52.70" y1="883.10" x2="52.70" y2="885.70" stroke="#2b2320" stroke-width="0.9"/>
<text x="52.70" y="893.00" font-size="8.2" fill="#3f3f3f" text-anchor="middle" stroke="#3f3f3f" stroke-width="0.12">0</text>
<line x1="127.00" y1="883.10" x2="127.00" y2="885.70" stroke="#2b2320" stroke-width="0.9"/>
<text x="127.00" y="893.00" font-size="8.2" fill="#3f3f3f" text-anchor="middle" stroke="#3f3f3f" stroke-width="0.12">50</text>
<line x1="201.30" y1="883.10" x2="201.30" y2="885.70" stroke="#2b2320" stroke-width="0.9"/>
<text x="201.30" y="893.00" font-size="8.2" fill="#3f3f3f" text-anchor="middle" stroke="#3f3f3f" stroke-width="0.12">100</text>
<line x1="275.60" y1="883.10" x2="275.60" y2="885.70" stroke="#2b2320" stroke-width="0.9"/>
<text x="275.60" y="893.00" font-size="8.2" fill="#3f3f3f" text-anchor="middle" stroke="#3f3f3f" stroke-width="0.12">150</text>
<line x1="349.90" y1="883.10" x2="349.90" y2="885.70" stroke="#2b2320" stroke-width="0.9"/>
<text x="349.90" y="893.00" font-size="8.2" fill="#3f3f3f" text-anchor="middle" stroke="#3f3f3f" stroke-width="0.12">200</text>
<text x="199.60" y="904.20" font-size="8.95" fill="#231f20" text-anchor="middle" stroke="#231f20" stroke-width="0.12">Distance between neighboring crossovers (Mb)</text>
<text x="8.00" y="803.50" font-size="8.95" fill="#231f20" text-anchor="middle" transform="rotate(-90 8.00 803.50)" stroke="#231f20" stroke-width="0.12">Cell density (all chromosomes)</text>
<text x="405.70" y="724.50" font-size="12" fill="#000" text-anchor="start" font-weight="bold" stroke="#000" stroke-width="0.12">j</text>
<rect x="438.90" y="724.70" width="241.80" height="157.70" fill="#ffffff" stroke="#2b2320" stroke-width="1.2"/>
<line x1="552.90" y1="724.70" x2="552.90" y2="882.40" stroke="#f17f80" stroke-width="2.1" stroke-dasharray="7.0 2.55" stroke-dashoffset="0.9"/>
<line x1="561.30" y1="724.70" x2="561.30" y2="882.40" stroke="#5f9fd6" stroke-width="1.5" stroke-dasharray="7.0 2.55" stroke-dashoffset="0.9"/>
<path d="M449.93,864.81 C450.55,864.64 452.32,863.89 453.61,863.78 C454.91,863.68 456.17,863.89 457.70,864.19 C459.23,864.50 461.11,865.28 462.81,865.62 C464.51,865.96 466.22,866.37 467.92,866.24 C469.62,866.10 471.32,865.66 473.03,864.81 C474.73,863.95 476.26,862.93 478.14,861.13 C480.01,859.32 482.22,856.53 484.27,853.97 C486.31,851.42 488.36,848.69 490.40,845.80 C492.44,842.90 494.49,840.01 496.53,836.60 C498.57,833.20 500.62,829.62 502.66,825.36 C504.71,821.10 506.75,815.82 508.79,811.06 C510.84,806.29 513.05,800.84 514.92,796.75 C516.80,792.66 518.33,789.19 520.03,786.53 C521.74,783.87 523.44,782.24 525.14,780.81 C526.85,779.38 528.55,778.76 530.25,777.95 C531.96,777.13 533.66,776.93 535.36,775.90 C537.06,774.88 538.77,773.62 540.47,771.82 C542.17,770.01 543.88,767.56 545.58,765.07 C547.28,762.58 548.99,759.38 550.69,756.90 C552.39,754.41 554.27,751.75 555.80,750.15 C557.33,748.55 558.28,747.36 559.89,747.29 C561.49,747.22 563.66,747.97 565.44,749.74 C567.21,751.51 568.84,754.68 570.55,757.92 C572.25,761.15 573.78,765.07 575.66,769.16 C577.53,773.25 579.74,778.19 581.79,782.44 C583.83,786.70 585.87,790.45 587.92,794.71 C589.96,798.96 592.01,803.39 594.05,807.99 C596.09,812.59 598.14,817.53 600.18,822.30 C602.22,827.06 604.27,832.34 606.31,836.60 C608.36,840.86 610.40,844.78 612.44,847.84 C614.49,850.91 616.53,853.12 618.57,855.00 C620.62,856.87 622.66,857.89 624.71,859.08 C626.75,860.28 628.79,860.96 630.84,862.15 C632.88,863.34 634.92,864.94 636.97,866.24 C639.01,867.53 641.06,868.89 643.10,869.92 C645.14,870.94 646.85,871.72 649.23,872.37 C651.61,873.01 655.02,873.46 657.41,873.80 C659.79,874.14 661.60,874.14 663.54,874.41 C665.48,874.68 668.14,875.26 669.05,875.43" fill="none" stroke="#e8212b" stroke-width="1.6"/>
<path d="M449.93,858.67 C450.55,857.89 452.15,855.54 453.61,853.97 C455.08,852.41 457.02,850.36 458.72,849.27 C460.42,848.18 462.30,847.77 463.83,847.43 C465.36,847.09 466.22,847.06 467.92,847.23 C469.62,847.40 472.01,848.08 474.05,848.46 C476.09,848.83 478.14,849.34 480.18,849.48 C482.22,849.61 484.61,849.55 486.31,849.27 C488.02,849.00 488.70,848.76 490.40,847.84 C492.10,846.92 494.49,845.12 496.53,843.76 C498.57,842.39 500.62,840.93 502.66,839.67 C504.71,838.41 506.75,837.49 508.79,836.19 C510.84,834.90 512.88,833.71 514.92,831.90 C516.97,830.10 519.01,827.98 521.06,825.36 C523.10,822.74 525.14,819.74 527.19,816.16 C529.23,812.59 531.27,808.16 533.32,803.90 C535.36,799.64 537.41,794.88 539.45,790.62 C541.49,786.36 543.71,781.42 545.58,778.36 C547.45,775.29 548.99,773.59 550.69,772.22 C552.39,770.86 554.10,770.62 555.80,770.18 C557.50,769.74 559.30,769.74 560.91,769.57 C562.51,769.40 563.66,769.33 565.44,769.16 C567.21,768.99 569.87,768.61 571.57,768.55 C573.27,768.48 574.29,768.31 575.66,768.75 C577.02,769.19 578.38,769.94 579.74,771.20 C581.11,772.46 582.47,774.27 583.83,776.31 C585.19,778.36 586.22,780.23 587.92,783.47 C589.62,786.70 592.01,791.81 594.05,795.73 C596.09,799.64 598.14,803.56 600.18,806.97 C602.22,810.37 604.27,813.61 606.31,816.16 C608.36,818.72 610.40,820.49 612.44,822.30 C614.49,824.10 616.53,825.29 618.57,827.00 C620.62,828.70 622.66,830.06 624.71,832.51 C626.75,834.97 628.79,838.48 630.84,841.71 C632.88,844.95 634.92,848.86 636.97,851.93 C639.01,855.00 641.06,857.72 643.10,860.11 C645.14,862.49 647.19,864.60 649.23,866.24 C651.27,867.87 653.32,868.89 655.36,869.92 C657.41,870.94 659.21,871.62 661.49,872.37 C663.78,873.12 667.79,874.07 669.05,874.41" fill="none" stroke="#3583c5" stroke-width="1.6"/>
<text x="549.80" y="739.30" font-size="7.0" fill="#ee3f48" text-anchor="end" stroke="#ee3f48" stroke-width="0.12">85 Mb</text>
<text x="564.10" y="739.30" font-size="7.0" fill="#4a8fcc" text-anchor="start" stroke="#4a8fcc" stroke-width="0.12">92 Mb</text>
<line x1="628.40" y1="741.80" x2="637.00" y2="741.80" stroke="#e8212b" stroke-width="1.6"/>
<line x1="628.40" y1="752.60" x2="637.00" y2="752.60" stroke="#3583c5" stroke-width="1.6"/>
<text x="641.70" y="744.60" font-size="8.3" fill="#231f20" text-anchor="start" stroke="#231f20" stroke-width="0.12">Female</text>
<text x="641.70" y="755.40" font-size="8.3" fill="#231f20" text-anchor="start" stroke="#231f20" stroke-width="0.12">Male</text>
<line x1="436.30" y1="877.10" x2="438.90" y2="877.10" stroke="#2b2320" stroke-width="0.9"/>
<text x="435.10" y="879.60" font-size="8.2" fill="#3a3432" text-anchor="end" stroke="#3a3432" stroke-width="0.12">0.000</text>
<line x1="436.30" y1="828.15" x2="438.90" y2="828.15" stroke="#2b2320" stroke-width="0.9"/>
<text x="435.10" y="830.65" font-size="8.2" fill="#3a3432" text-anchor="end" stroke="#3a3432" stroke-width="0.12">0.005</text>
<line x1="436.30" y1="779.20" x2="438.90" y2="779.20" stroke="#2b2320" stroke-width="0.9"/>
<text x="435.10" y="781.70" font-size="8.2" fill="#3a3432" text-anchor="end" stroke="#3a3432" stroke-width="0.12">0.010</text>
<line x1="436.30" y1="730.25" x2="438.90" y2="730.25" stroke="#2b2320" stroke-width="0.9"/>
<text x="435.10" y="732.75" font-size="8.2" fill="#3a3432" text-anchor="end" stroke="#3a3432" stroke-width="0.12">0.015</text>
<line x1="449.40" y1="882.40" x2="449.40" y2="885.00" stroke="#2b2320" stroke-width="0.9"/>
<text x="449.40" y="893.30" font-size="8.299999999999999" fill="#3a3432" text-anchor="middle" stroke="#3a3432" stroke-width="0.12">0</text>
<line x1="510.40" y1="882.40" x2="510.40" y2="885.00" stroke="#2b2320" stroke-width="0.9"/>
<text x="510.40" y="893.30" font-size="8.299999999999999" fill="#3a3432" text-anchor="middle" stroke="#3a3432" stroke-width="0.12">50</text>
<line x1="571.40" y1="882.40" x2="571.40" y2="885.00" stroke="#2b2320" stroke-width="0.9"/>
<text x="571.40" y="893.30" font-size="8.299999999999999" fill="#3a3432" text-anchor="middle" stroke="#3a3432" stroke-width="0.12">100</text>
<line x1="632.40" y1="882.40" x2="632.40" y2="885.00" stroke="#2b2320" stroke-width="0.9"/>
<text x="632.40" y="893.30" font-size="8.299999999999999" fill="#3a3432" text-anchor="middle" stroke="#3a3432" stroke-width="0.12">150</text>
<text x="559.50" y="903.90" font-size="8.95" fill="#231f20" text-anchor="middle" stroke="#231f20" stroke-width="0.12">Distance between neighboring crossovers (Mb)</text>
<text x="409.50" y="803.20" font-size="8.95" fill="#231f20" text-anchor="middle" transform="rotate(-90 409.50 803.20)" stroke="#231f20" stroke-width="0.12">Cell density (all chromosomes)</text>
<text x="2.70" y="919.00" font-size="12" fill="#000" text-anchor="start" font-weight="bold" stroke="#000" stroke-width="0.12">k</text>
<line x1="20.10" y1="922.80" x2="677.50" y2="922.80" stroke="#5d5552" stroke-width="1.3"/>
<line x1="20.10" y1="956.00" x2="677.50" y2="956.00" stroke="#756e6c" stroke-width="1.0"/>
<line x1="20.10" y1="1043.50" x2="677.50" y2="1043.50" stroke="#231f20" stroke-width="1.0"/>
<text x="30.90" y="938.40" font-size="10.1" fill="#231f20" text-anchor="start" font-weight="bold" letter-spacing="0.12" stroke="#231f20" stroke-width="0.12">chr1</text>
<text x="213.40" y="938.40" font-size="10.1" fill="#231f20" text-anchor="start" font-weight="bold" letter-spacing="0.12" stroke="#231f20" stroke-width="0.12">Zero</text>
<text x="213.40" y="950.80" font-size="10.1" fill="#231f20" text-anchor="start" font-weight="bold" letter-spacing="0.12" stroke="#231f20" stroke-width="0.12">crossover</text>
<text x="300.10" y="938.40" font-size="10.1" fill="#231f20" text-anchor="start" font-weight="bold" letter-spacing="0.12" stroke="#231f20" stroke-width="0.12">Single</text>
<text x="300.10" y="950.80" font-size="10.1" fill="#231f20" text-anchor="start" font-weight="bold" letter-spacing="0.12" stroke="#231f20" stroke-width="0.12">crossover</text>
<text x="381.30" y="938.40" font-size="10.1" fill="#231f20" text-anchor="start" font-weight="bold" letter-spacing="0.12" stroke="#231f20" stroke-width="0.12">Double</text>
<text x="381.30" y="950.80" font-size="10.1" fill="#231f20" text-anchor="start" font-weight="bold" letter-spacing="0.12" stroke="#231f20" stroke-width="0.12">crossovers</text>
<text x="471.00" y="938.40" font-size="10.1" fill="#231f20" text-anchor="start" font-weight="bold" letter-spacing="0.12" stroke="#231f20" stroke-width="0.12">Triple</text>
<text x="471.00" y="950.80" font-size="10.1" fill="#231f20" text-anchor="start" font-weight="bold" letter-spacing="0.12" stroke="#231f20" stroke-width="0.12">crossovers</text>
<text x="555.60" y="938.40" font-size="10.1" fill="#231f20" text-anchor="start" font-weight="bold" letter-spacing="0.12" stroke="#231f20" stroke-width="0.12">Average number of</text>
<text x="555.60" y="950.80" font-size="10.1" fill="#231f20" text-anchor="start" font-weight="bold" letter-spacing="0.12" stroke="#231f20" stroke-width="0.12">chiasmata per bivalent</text>
<text x="30.90" y="972.70" font-size="10.1" fill="#231f20" text-anchor="start" font-weight="bold" letter-spacing="0.12" stroke="#231f20" stroke-width="0.12">Male</text>
<text x="86.00" y="972.70" font-size="10.1" fill="#231f20" text-anchor="start" font-weight="bold" letter-spacing="0.12" stroke="#231f20" stroke-width="0.12">Number</text>
<text x="213.40" y="972.70" font-size="10.1" fill="#231f20" text-anchor="start" stroke="#231f20" stroke-width="0.12">244</text>
<text x="300.10" y="972.70" font-size="10.1" fill="#231f20" text-anchor="start" stroke="#231f20" stroke-width="0.12">340</text>
<text x="381.30" y="972.70" font-size="10.1" fill="#231f20" text-anchor="start" stroke="#231f20" stroke-width="0.12">87</text>
<text x="471.00" y="972.70" font-size="10.1" fill="#231f20" text-anchor="start" stroke="#231f20" stroke-width="0.12">2</text>
<text x="555.60" y="972.70" font-size="10.1" fill="#231f20" text-anchor="start" stroke="#231f20" stroke-width="0.12">1.55</text>
<text x="86.00" y="992.00" font-size="10.1" fill="#231f20" text-anchor="start" font-weight="bold" letter-spacing="0.12" stroke="#231f20" stroke-width="0.12">Relative frequency</text>
<text x="213.40" y="992.00" font-size="10.1" fill="#231f20" text-anchor="start" stroke="#231f20" stroke-width="0.12">0.36</text>
<text x="300.10" y="992.00" font-size="10.1" fill="#231f20" text-anchor="start" stroke="#231f20" stroke-width="0.12">0.51</text>
<text x="381.30" y="992.00" font-size="10.1" fill="#231f20" text-anchor="start" stroke="#231f20" stroke-width="0.12">0.13</text>
<text x="471.00" y="992.00" font-size="10.1" fill="#231f20" text-anchor="start" stroke="#231f20" stroke-width="0.12">0.003</text>
<text x="30.90" y="1012.90" font-size="10.1" fill="#231f20" text-anchor="start" font-weight="bold" letter-spacing="0.12" stroke="#231f20" stroke-width="0.12">Female</text>
<text x="86.00" y="1012.90" font-size="10.1" fill="#231f20" text-anchor="start" font-weight="bold" letter-spacing="0.12" stroke="#231f20" stroke-width="0.12">Number</text>
<text x="213.40" y="1012.90" font-size="10.1" fill="#231f20" text-anchor="start" stroke="#231f20" stroke-width="0.12">63</text>
<text x="300.10" y="1012.90" font-size="10.1" fill="#231f20" text-anchor="start" stroke="#231f20" stroke-width="0.12">132</text>
<text x="381.30" y="1012.90" font-size="10.1" fill="#231f20" text-anchor="start" stroke="#231f20" stroke-width="0.12">53</text>
<text x="471.00" y="1012.90" font-size="10.1" fill="#231f20" text-anchor="start" stroke="#231f20" stroke-width="0.12">7</text>
<text x="555.60" y="1012.90" font-size="10.1" fill="#231f20" text-anchor="start" stroke="#231f20" stroke-width="0.12">2.03</text>
<text x="86.00" y="1035.30" font-size="10.1" fill="#231f20" text-anchor="start" font-weight="bold" letter-spacing="0.12" stroke="#231f20" stroke-width="0.12">Relative frequency</text>
<text x="213.40" y="1035.30" font-size="10.1" fill="#231f20" text-anchor="start" stroke="#231f20" stroke-width="0.12">0.25</text>
<text x="300.10" y="1035.30" font-size="10.1" fill="#231f20" text-anchor="start" stroke="#231f20" stroke-width="0.12">0.52</text>
<text x="381.30" y="1035.30" font-size="10.1" fill="#231f20" text-anchor="start" stroke="#231f20" stroke-width="0.12">0.21</text>
<text x="471.00" y="1035.30" font-size="10.1" fill="#231f20" text-anchor="start" stroke="#231f20" stroke-width="0.12">0.027</text>
</svg>
</body>
</html>
